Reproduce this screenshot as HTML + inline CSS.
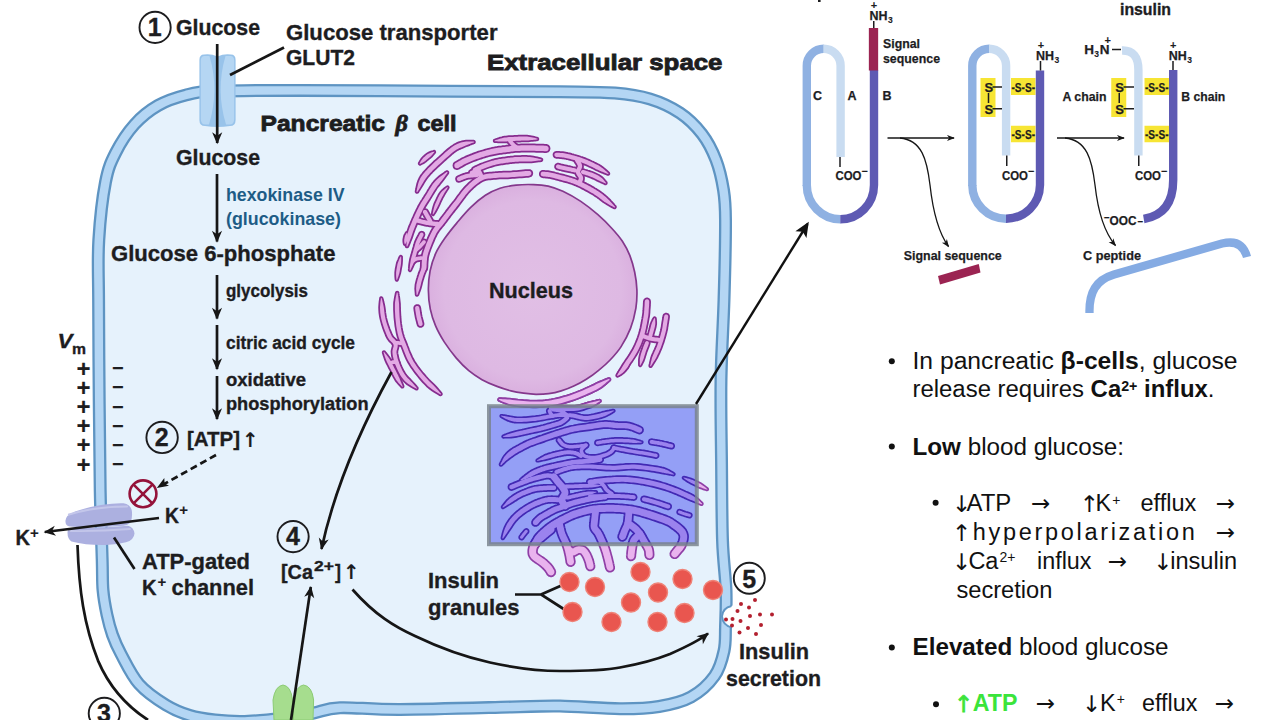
<!DOCTYPE html>
<html lang="en">
<head>
<meta charset="utf-8">
<title>Insulin secretion in pancreatic beta cells</title>
<style>
html,body{margin:0;padding:0;background:#fff;}
body{width:1280px;height:720px;overflow:hidden;}
svg{display:block;}
text{font-family:"Liberation Sans",sans-serif;}
.b{font-weight:bold;fill:#1d1d1f;stroke:#1d1d1f;stroke-width:0.350px;}
.lbl{font-weight:bold;fill:#1d1d1f;font-size:13.5px;stroke:#1d1d1f;stroke-width:0.25px;}
.t{fill:#111;font-size:23.5px;}
.ar text{font-family:"DejaVu Sans",sans-serif;font-size:23px;fill:#111;}
.ln{stroke:#161616;stroke-width:2.700;fill:none;stroke-linecap:butt;}
</style>
</head>
<body>
<svg width="1280" height="720" viewBox="0 0 1280 720">
<defs>
<marker id="ah" viewBox="0 0 12 10" refX="10" refY="5" markerWidth="13.500" markerHeight="11.500" markerUnits="userSpaceOnUse" orient="auto"><path d="M0.5,0.5 L11,5 L0.5,9.5 L3.5,5 Z" fill="#161616"/></marker>
<marker id="ahs" viewBox="0 0 10 8" refX="8.5" refY="4" markerWidth="9" markerHeight="7" markerUnits="userSpaceOnUse" orient="auto"><path d="M0.5,0.5 L9.5,4 L0.5,7.5 L3,4 Z" fill="#161616"/></marker>
<marker id="ahb" viewBox="0 0 16 14" refX="13" refY="7" markerWidth="16" markerHeight="14" markerUnits="userSpaceOnUse" orient="auto"><path d="M0.5,0.5 L15.5,7 L0.5,13.5 L4,7 Z" fill="#111"/></marker>
<radialGradient id="nuc" cx="0.5" cy="0.5" r="0.5"><stop offset="0" stop-color="#e1bfe5"/><stop offset="0.85" stop-color="#deb9e3"/><stop offset="1" stop-color="#dab0df"/></radialGradient>
<filter id="soft" x="-5%" y="-5%" width="110%" height="110%"><feGaussianBlur stdDeviation="0.45"/></filter>
</defs>
<rect width="1280" height="720" fill="#ffffff"/>

<!-- ================= CELL ================= -->
<g id="cell">
<path d="M98.6,300.0 C98.5,273.3 97.6,259.7 98.8,240.0 C100.0,220.3 102.7,196.5 105.5,182.0 C108.3,167.5 110.7,162.6 115.5,153.0 C120.3,143.4 127.4,132.4 134.5,124.5 C141.6,116.6 149.4,110.4 158.0,105.5 C166.6,100.6 176.5,97.4 186.0,95.0 C195.5,92.6 196.0,92.1 215.0,91.3 C234.0,90.5 260.8,90.4 300.0,90.4 C339.2,90.4 406.7,91.0 450.0,91.2 C493.3,91.4 532.5,91.5 560.0,91.8 C587.5,92.1 600.0,91.8 615.0,93.0 C630.0,94.2 639.2,95.7 650.0,99.0 C660.8,102.3 671.3,107.2 680.0,113.0 C688.7,118.8 696.0,126.2 702.0,134.0 C708.0,141.8 712.4,150.7 716.0,160.0 C719.6,169.3 721.9,180.0 723.5,190.0 C725.1,200.0 725.4,201.7 725.5,220.0 C725.6,238.3 724.8,273.3 724.0,300.0 C723.2,326.7 721.4,353.3 721.0,380.0 C720.6,406.7 721.2,433.3 721.5,460.0 C721.8,486.7 721.8,518.3 722.5,540.0 C723.2,561.7 725.5,575.5 726.0,590.0 C726.5,604.5 725.8,616.8 725.5,627.0 C725.2,637.2 725.8,642.8 724.0,651.0 C722.2,659.2 720.0,668.3 714.5,676.0 C709.0,683.7 700.2,691.9 691.0,697.0 C681.8,702.1 670.8,704.5 659.0,706.5 C647.2,708.5 636.5,708.9 620.0,708.8 C603.5,708.7 576.7,706.3 560.0,706.0 C543.3,705.7 546.7,706.2 520.0,706.8 C493.3,707.4 430.0,709.4 400.0,709.5 C370.0,709.6 354.4,707.1 340.0,707.7 C325.6,708.3 321.9,711.5 313.6,713.0 C305.3,714.5 297.1,715.9 290.0,717.0 C282.9,718.1 279.0,718.8 271.0,719.5 C263.0,720.2 251.3,721.4 242.0,721.5 C232.7,721.6 223.7,721.0 215.0,720.0 C206.3,719.0 198.2,718.0 190.0,715.5 C181.8,713.0 174.5,710.2 166.0,705.0 C157.5,699.8 146.5,692.5 139.0,684.0 C131.5,675.5 125.4,662.2 121.0,654.0 C116.6,645.8 114.8,641.5 112.5,635.0 C110.2,628.5 108.6,622.5 107.0,615.0 C105.4,607.5 103.8,599.2 103.0,590.0 C102.2,580.8 102.7,576.7 102.2,560.0 C101.7,543.3 100.7,516.7 100.2,490.0 C99.7,463.3 99.5,431.7 99.2,400.0 C98.9,368.3 98.7,326.7 98.6,300.0 Z" fill="#e6f2fc"/>
<path d="M98.6,300.0 C98.5,273.3 97.6,259.7 98.8,240.0 C100.0,220.3 102.7,196.5 105.5,182.0 C108.3,167.5 110.7,162.6 115.5,153.0 C120.3,143.4 127.4,132.4 134.5,124.5 C141.6,116.6 149.4,110.4 158.0,105.5 C166.6,100.6 176.5,97.4 186.0,95.0 C195.5,92.6 196.0,92.1 215.0,91.3 C234.0,90.5 260.8,90.4 300.0,90.4 C339.2,90.4 406.7,91.0 450.0,91.2 C493.3,91.4 532.5,91.5 560.0,91.8 C587.5,92.1 600.0,91.8 615.0,93.0 C630.0,94.2 639.2,95.7 650.0,99.0 C660.8,102.3 671.3,107.2 680.0,113.0 C688.7,118.8 696.0,126.2 702.0,134.0 C708.0,141.8 712.4,150.7 716.0,160.0 C719.6,169.3 721.9,180.0 723.5,190.0 C725.1,200.0 725.4,201.7 725.5,220.0 C725.6,238.3 724.8,273.3 724.0,300.0 C723.2,326.7 721.4,353.3 721.0,380.0 C720.6,406.7 721.2,433.3 721.5,460.0 C721.8,486.7 721.8,518.3 722.5,540.0 C723.2,561.7 725.5,575.5 726.0,590.0 C726.5,604.5 725.8,616.8 725.5,627.0 C725.2,637.2 725.8,642.8 724.0,651.0 C722.2,659.2 720.0,668.3 714.5,676.0 C709.0,683.7 700.2,691.9 691.0,697.0 C681.8,702.1 670.8,704.5 659.0,706.5 C647.2,708.5 636.5,708.9 620.0,708.8 C603.5,708.7 576.7,706.3 560.0,706.0 C543.3,705.7 546.7,706.2 520.0,706.8 C493.3,707.4 430.0,709.4 400.0,709.5 C370.0,709.6 354.4,707.1 340.0,707.7 C325.6,708.3 321.9,711.5 313.6,713.0 C305.3,714.5 297.1,715.9 290.0,717.0 C282.9,718.1 279.0,718.8 271.0,719.5 C263.0,720.2 251.3,721.4 242.0,721.5 C232.7,721.6 223.7,721.0 215.0,720.0 C206.3,719.0 198.2,718.0 190.0,715.5 C181.8,713.0 174.5,710.2 166.0,705.0 C157.5,699.8 146.5,692.5 139.0,684.0 C131.5,675.5 125.4,662.2 121.0,654.0 C116.6,645.8 114.8,641.5 112.5,635.0 C110.2,628.5 108.6,622.5 107.0,615.0 C105.4,607.5 103.8,599.2 103.0,590.0 C102.2,580.8 102.7,576.7 102.2,560.0 C101.7,543.3 100.7,516.7 100.2,490.0 C99.7,463.3 99.5,431.7 99.2,400.0 C98.9,368.3 98.7,326.7 98.6,300.0 Z" fill="none" stroke="#5e94c2" stroke-width="13" stroke-linejoin="round"/>
<path d="M98.6,300.0 C98.5,273.3 97.6,259.7 98.8,240.0 C100.0,220.3 102.7,196.5 105.5,182.0 C108.3,167.5 110.7,162.6 115.5,153.0 C120.3,143.4 127.4,132.4 134.5,124.5 C141.6,116.6 149.4,110.4 158.0,105.5 C166.6,100.6 176.5,97.4 186.0,95.0 C195.5,92.6 196.0,92.1 215.0,91.3 C234.0,90.5 260.8,90.4 300.0,90.4 C339.2,90.4 406.7,91.0 450.0,91.2 C493.3,91.4 532.5,91.5 560.0,91.8 C587.5,92.1 600.0,91.8 615.0,93.0 C630.0,94.2 639.2,95.7 650.0,99.0 C660.8,102.3 671.3,107.2 680.0,113.0 C688.7,118.8 696.0,126.2 702.0,134.0 C708.0,141.8 712.4,150.7 716.0,160.0 C719.6,169.3 721.9,180.0 723.5,190.0 C725.1,200.0 725.4,201.7 725.5,220.0 C725.6,238.3 724.8,273.3 724.0,300.0 C723.2,326.7 721.4,353.3 721.0,380.0 C720.6,406.7 721.2,433.3 721.5,460.0 C721.8,486.7 721.8,518.3 722.5,540.0 C723.2,561.7 725.5,575.5 726.0,590.0 C726.5,604.5 725.8,616.8 725.5,627.0 C725.2,637.2 725.8,642.8 724.0,651.0 C722.2,659.2 720.0,668.3 714.5,676.0 C709.0,683.7 700.2,691.9 691.0,697.0 C681.8,702.1 670.8,704.5 659.0,706.5 C647.2,708.5 636.5,708.9 620.0,708.8 C603.5,708.7 576.7,706.3 560.0,706.0 C543.3,705.7 546.7,706.2 520.0,706.8 C493.3,707.4 430.0,709.4 400.0,709.5 C370.0,709.6 354.4,707.1 340.0,707.7 C325.6,708.3 321.9,711.5 313.6,713.0 C305.3,714.5 297.1,715.9 290.0,717.0 C282.9,718.1 279.0,718.8 271.0,719.5 C263.0,720.2 251.3,721.4 242.0,721.5 C232.7,721.6 223.7,721.0 215.0,720.0 C206.3,719.0 198.2,718.0 190.0,715.5 C181.8,713.0 174.5,710.2 166.0,705.0 C157.5,699.8 146.5,692.5 139.0,684.0 C131.5,675.5 125.4,662.2 121.0,654.0 C116.6,645.8 114.8,641.5 112.5,635.0 C110.2,628.5 108.6,622.5 107.0,615.0 C105.4,607.5 103.8,599.2 103.0,590.0 C102.2,580.8 102.7,576.7 102.2,560.0 C101.7,543.3 100.7,516.7 100.2,490.0 C99.7,463.3 99.5,431.7 99.2,400.0 C98.9,368.3 98.7,326.7 98.6,300.0 Z" fill="none" stroke="#b4d6f4" stroke-width="8.400" stroke-linejoin="round"/>
</g>

<!--ER_START-->
<!-- ================= NUCLEUS + ER ================= -->
<path d="M516.2,185.1 C521.8,184.5 528.1,184.4 533.5,184.6 C538.8,184.7 543.3,185.0 548.2,186.1 C553.1,187.3 557.5,188.8 562.9,191.3 C568.4,193.9 575.0,197.6 580.8,201.4 C586.6,205.3 592.7,210.2 597.9,214.7 C603.0,219.2 607.7,223.8 611.7,228.2 C615.8,232.6 619.4,236.7 622.4,241.3 C625.4,245.9 627.8,250.5 629.9,255.6 C631.9,260.8 633.5,266.5 634.7,272.2 C635.9,277.9 636.7,283.7 636.9,289.7 C637.1,295.7 636.9,301.7 635.9,308.1 C634.8,314.6 633.0,321.9 630.5,328.4 C628.0,334.8 624.5,341.3 621.1,346.6 C617.7,351.9 613.9,356.0 610.1,360.0 C606.4,364.0 602.6,367.2 598.6,370.4 C594.7,373.7 590.5,376.7 586.3,379.3 C582.2,381.9 578.0,384.2 573.8,386.1 C569.6,388.1 565.4,389.7 561.2,390.9 C557.1,392.2 552.9,393.1 548.7,393.6 C544.5,394.2 540.3,394.3 536.1,394.3 C532.0,394.2 527.8,393.7 523.6,393.1 C519.4,392.5 515.5,391.9 511.0,390.8 C506.6,389.7 501.8,388.3 497.0,386.4 C492.1,384.6 486.7,382.3 482.0,379.7 C477.3,377.0 473.1,374.3 468.8,370.7 C464.5,367.1 460.2,362.7 456.1,357.9 C452.1,353.1 447.7,347.2 444.2,341.9 C440.8,336.5 437.8,331.2 435.5,325.7 C433.2,320.2 431.5,314.9 430.3,309.1 C429.1,303.2 428.4,296.8 428.4,290.4 C428.3,284.1 428.9,277.1 430.1,270.9 C431.4,264.7 433.3,258.6 435.8,253.2 C438.2,247.8 441.3,243.3 444.8,238.3 C448.3,233.3 452.4,228.2 456.7,223.1 C461.1,217.9 465.9,212.0 470.7,207.4 C475.4,202.8 480.5,198.5 485.4,195.3 C490.2,192.2 494.9,190.0 500.0,188.3 C505.1,186.6 510.6,185.8 516.2,185.1 Z" fill="url(#nuc)" stroke="#84388c" stroke-width="1.700"/>
<defs><g id="erP">
<path d="M420.3,163.8 L421.0,163.4 L421.9,163.0 L423.0,162.4 L424.1,161.7 L425.3,160.9 L426.3,160.0 L427.3,159.2 L428.2,158.4 L429.1,157.7 L430.0,157.0 L430.9,156.2 L431.8,155.3 L432.5,154.4 L433.2,153.6 L433.8,152.9 L434.2,152.3 L434.4,152.2 L434.4,152.0 L434.3,151.8 L434.2,151.6 L434.0,151.6 L433.8,151.7 L433.1,151.9 L432.3,152.1 L431.2,152.5 L430.1,152.9 L429.0,153.4 L427.8,154.1 L426.8,154.8 L425.8,155.6 L424.9,156.4 L423.8,157.3 L422.9,158.3 L422.0,159.4 L421.2,160.6 L420.6,161.6 L420.1,162.5 L419.7,163.2 L419.6,163.4 L419.6,163.6 L419.7,163.8 L419.9,163.9 L420.1,163.9Z"/>
<path d="M417.5,191.7 L418.0,190.9 L418.8,189.7 L419.6,188.4 L420.5,186.9 L421.5,185.3 L422.4,183.8 L423.2,182.4 L424.0,181.1 L424.7,180.0 L425.4,179.0 L426.0,178.1 L426.7,177.2 L427.4,176.2 L428.3,175.3 L429.2,174.2 L430.2,173.1 L431.4,171.9 L432.6,170.6 L434.0,169.3 L435.4,167.9 L436.9,166.5 L438.4,165.1 L440.0,163.7 L441.6,162.2 L443.2,160.7 L445.0,159.1 L446.8,157.5 L448.6,155.9 L450.5,154.3 L452.2,152.8 L453.8,151.5 L455.3,150.4 L456.7,149.6 L457.9,148.9 L459.1,148.3 L460.2,147.8 L461.3,147.4 L462.3,146.9 L463.5,146.5 L464.6,146.0 L465.8,145.5 L467.0,145.0 L468.3,144.5 L469.6,144.0 L470.8,143.5 L471.9,143.1 L472.9,142.8 L473.6,142.5 L473.8,142.4 L474.0,142.2 L474.0,141.9 L473.9,141.7 L473.7,141.5 L473.4,141.5 L472.7,141.5 L471.7,141.5 L470.5,141.4 L469.1,141.4 L467.7,141.5 L466.2,141.6 L464.8,141.8 L463.4,142.0 L462.1,142.3 L460.9,142.6 L459.7,143.0 L458.4,143.5 L457.1,144.0 L455.7,144.7 L454.2,145.6 L452.7,146.6 L451.0,147.8 L449.2,149.2 L447.4,150.7 L445.5,152.3 L443.7,154.0 L441.8,155.7 L440.1,157.3 L438.4,158.8 L436.8,160.2 L435.2,161.6 L433.7,163.1 L432.2,164.5 L430.7,165.9 L429.3,167.3 L428.0,168.6 L426.8,169.9 L425.7,171.1 L424.7,172.2 L423.8,173.2 L423.0,174.3 L422.2,175.3 L421.4,176.4 L420.7,177.6 L420.0,178.9 L419.3,180.4 L418.7,182.1 L418.1,183.9 L417.7,185.7 L417.3,187.4 L417.0,189.0 L416.7,190.3 L416.5,191.3 L416.5,191.6 L416.6,191.8 L416.8,192.0 L417.1,192.0 L417.3,191.9Z"/>
<path d="M407.5,246.1 L408.0,245.1 L408.6,243.7 L409.3,242.0 L410.0,240.2 L410.8,238.3 L411.5,236.3 L412.1,234.5 L412.7,232.7 L413.3,231.1 L413.9,229.4 L414.6,227.7 L415.3,226.0 L416.0,224.3 L416.7,222.7 L417.4,221.0 L418.1,219.4 L418.8,217.9 L419.5,216.4 L420.2,215.0 L420.8,213.6 L421.5,212.2 L422.2,210.8 L422.8,209.5 L423.6,208.1 L424.3,206.8 L425.0,205.6 L425.8,204.3 L426.6,203.1 L427.4,201.8 L428.2,200.5 L429.1,199.2 L430.0,197.7 L430.9,196.2 L431.8,194.7 L432.8,193.1 L433.7,191.5 L434.7,190.0 L435.7,188.4 L436.7,186.9 L437.8,185.5 L439.1,184.0 L440.4,182.3 L441.9,180.5 L443.2,178.7 L444.5,176.9 L445.7,175.3 L446.7,173.9 L447.4,172.9 L447.5,172.6 L447.5,172.4 L447.4,172.1 L447.1,172.0 L446.9,172.0 L446.6,172.1 L445.6,172.8 L444.2,173.8 L442.6,174.9 L440.8,176.2 L438.9,177.7 L437.2,179.3 L435.5,180.9 L434.2,182.5 L432.9,184.1 L431.8,185.8 L430.7,187.4 L429.7,189.1 L428.7,190.7 L427.8,192.3 L426.9,193.8 L426.0,195.3 L425.1,196.6 L424.3,198.0 L423.4,199.3 L422.6,200.6 L421.8,201.8 L421.0,203.1 L420.2,204.5 L419.4,205.9 L418.7,207.3 L418.0,208.7 L417.3,210.1 L416.6,211.6 L415.9,213.0 L415.2,214.5 L414.5,216.0 L413.9,217.6 L413.1,219.1 L412.4,220.8 L411.7,222.5 L411.0,224.2 L410.2,225.9 L409.5,227.7 L408.9,229.5 L408.3,231.3 L407.7,233.2 L407.3,235.2 L407.0,237.4 L406.8,239.5 L406.7,241.5 L406.6,243.3 L406.5,244.8 L406.5,245.9 L406.5,246.1 L406.6,246.4 L406.9,246.5 L407.1,246.5 L407.4,246.4Z"/>
<path d="M433.3,214.1 L433.8,213.4 L434.4,212.5 L435.1,211.3 L435.8,210.1 L436.5,208.7 L437.3,207.3 L437.9,206.0 L438.5,204.7 L439.1,203.4 L439.7,202.1 L440.3,200.8 L440.9,199.5 L441.5,198.2 L442.1,197.0 L442.8,195.9 L443.3,194.9 L443.9,193.9 L444.5,192.8 L445.2,191.8 L445.8,190.8 L446.4,189.9 L447.0,189.0 L447.4,188.3 L447.8,187.7 L447.9,187.6 L447.8,187.4 L447.7,187.2 L447.6,187.1 L447.4,187.2 L447.2,187.3 L446.7,187.6 L446.0,188.1 L445.2,188.7 L444.3,189.4 L443.4,190.2 L442.4,191.1 L441.5,192.1 L440.7,193.1 L439.9,194.3 L439.2,195.5 L438.6,196.7 L437.9,198.1 L437.3,199.4 L436.7,200.7 L436.1,202.0 L435.5,203.3 L434.9,204.7 L434.4,206.2 L434.0,207.7 L433.6,209.2 L433.3,210.6 L433.0,211.9 L432.8,213.0 L432.7,213.9 L432.6,214.1 L432.7,214.2 L432.9,214.3 L433.1,214.4 L433.2,214.3Z"/>
<path d="M426.4,268.1 L426.5,267.2 L426.6,265.9 L426.6,264.5 L426.7,262.9 L426.8,261.2 L427.0,259.5 L427.1,257.9 L427.4,256.5 L427.7,255.1 L428.1,253.7 L428.5,252.3 L429.0,250.9 L429.5,249.4 L430.1,247.9 L430.7,246.4 L431.3,244.9 L431.9,243.3 L432.6,241.7 L433.3,240.0 L434.0,238.3 L434.8,236.7 L435.6,235.1 L436.3,233.6 L437.1,232.3 L437.9,231.0 L438.7,229.9 L439.5,228.8 L440.4,227.8 L441.3,226.7 L442.2,225.7 L443.1,224.6 L443.9,223.5 L444.7,222.5 L445.5,221.5 L446.2,220.5 L446.8,219.6 L447.5,218.7 L448.3,217.7 L449.1,216.6 L449.9,215.5 L450.9,214.2 L451.9,212.9 L453.0,211.6 L454.1,210.1 L455.3,208.7 L456.5,207.1 L457.7,205.6 L458.9,204.0 L460.2,202.3 L461.5,200.5 L462.8,198.7 L464.2,196.9 L465.5,195.1 L466.9,193.4 L468.3,191.7 L469.7,190.2 L471.3,188.7 L472.8,187.2 L474.5,185.8 L476.1,184.4 L477.7,183.2 L479.4,182.0 L481.0,181.0 L482.5,180.2 L484.0,179.6 L485.5,179.1 L487.0,178.8 L488.6,178.6 L490.3,178.4 L492.0,178.3 L493.8,178.1 L495.7,177.9 L497.6,177.8 L499.6,177.6 L501.6,177.5 L503.6,177.5 L505.7,177.4 L507.9,177.4 L510.0,177.3 L512.2,177.1 L514.4,177.0 L516.8,176.8 L519.3,176.6 L521.7,176.4 L524.1,176.2 L526.1,176.0 L527.9,175.9 L529.2,175.7 L530.4,175.3 L531.2,174.3 L531.4,173.1 L531.0,171.9 L530.0,171.1 L528.8,170.9 L527.5,171.0 L525.7,171.1 L523.6,171.3 L521.3,171.5 L518.9,171.7 L516.4,171.9 L514.0,172.1 L511.8,172.3 L509.8,172.4 L507.7,172.5 L505.6,172.5 L503.5,172.6 L501.4,172.7 L499.3,172.7 L497.2,172.9 L495.3,173.1 L493.4,173.2 L491.6,173.4 L489.8,173.5 L488.0,173.7 L486.2,174.0 L484.3,174.4 L482.4,175.0 L480.5,175.8 L478.6,176.8 L476.7,177.9 L474.8,179.2 L473.0,180.6 L471.3,182.1 L469.5,183.6 L467.9,185.2 L466.3,186.8 L464.7,188.5 L463.1,190.3 L461.7,192.1 L460.3,194.0 L458.9,195.8 L457.6,197.6 L456.3,199.4 L455.1,201.0 L453.8,202.6 L452.6,204.1 L451.4,205.6 L450.3,207.1 L449.1,208.5 L448.1,209.9 L447.0,211.2 L446.1,212.5 L445.2,213.7 L444.4,214.8 L443.6,215.8 L442.9,216.7 L442.2,217.6 L441.5,218.5 L440.8,219.5 L440.1,220.5 L439.3,221.5 L438.4,222.5 L437.5,223.5 L436.6,224.6 L435.7,225.8 L434.7,227.0 L433.8,228.3 L432.9,229.7 L432.0,231.3 L431.2,232.9 L430.4,234.6 L429.6,236.3 L428.8,238.0 L428.1,239.8 L427.4,241.5 L426.7,243.1 L426.1,244.6 L425.5,246.2 L424.9,247.7 L424.4,249.3 L423.9,250.8 L423.4,252.3 L423.0,253.9 L422.6,255.5 L422.3,257.2 L422.1,259.0 L421.9,260.8 L421.8,262.6 L421.7,264.3 L421.7,265.7 L421.6,267.0 L421.6,267.9 L421.8,269.1 L422.6,270.0 L423.9,270.4 L425.1,270.2 L426.0,269.4Z"/>
<path d="M415.4,222.1 L415.9,222.2 L416.6,222.4 L417.4,222.7 L418.4,223.0 L419.4,223.3 L420.4,223.6 L421.5,223.8 L422.5,224.1 L423.5,224.3 L424.5,224.5 L425.5,224.8 L426.6,225.0 L427.7,225.1 L428.7,225.3 L429.7,225.5 L430.7,225.6 L431.7,225.8 L432.8,225.8 L433.9,225.9 L434.9,226.0 L435.8,226.0 L436.7,226.1 L437.4,226.1 L437.9,226.1 L439.0,225.9 L439.8,225.2 L440.1,224.1 L439.9,223.0 L439.2,222.2 L438.1,221.9 L437.6,221.8 L436.9,221.8 L436.0,221.7 L435.1,221.7 L434.2,221.6 L433.2,221.6 L432.2,221.5 L431.3,221.4 L430.4,221.2 L429.4,221.1 L428.4,220.9 L427.4,220.7 L426.4,220.5 L425.4,220.3 L424.4,220.1 L423.5,219.9 L422.6,219.7 L421.6,219.4 L420.6,219.1 L419.6,218.8 L418.7,218.6 L417.9,218.3 L417.2,218.1 L416.6,217.9 L415.5,217.9 L414.5,218.4 L413.9,219.4 L413.9,220.5 L414.4,221.5Z"/>
<path d="M423.1,213.1 L423.5,213.6 L423.9,214.4 L424.4,215.3 L425.0,216.3 L425.6,217.4 L426.2,218.4 L426.7,219.3 L427.1,220.0 L427.5,220.7 L427.8,221.3 L428.1,221.9 L428.3,222.4 L428.5,222.9 L428.7,223.3 L428.9,223.6 L429.1,223.9 L429.8,224.8 L430.9,225.1 L431.9,224.9 L432.8,224.2 L433.1,223.1 L432.9,222.1 L432.8,221.8 L432.6,221.4 L432.4,221.0 L432.2,220.5 L431.9,219.9 L431.6,219.3 L431.3,218.7 L430.9,218.0 L430.4,217.2 L429.9,216.2 L429.3,215.2 L428.7,214.2 L428.2,213.2 L427.6,212.3 L427.2,211.5 L426.9,210.9 L426.1,210.1 L425.0,209.9 L423.9,210.1 L423.1,210.9 L422.9,212.0Z"/>
<path d="M459.8,180.9 L460.4,180.7 L461.2,180.3 L462.2,179.9 L463.2,179.5 L464.3,179.1 L465.4,178.7 L466.4,178.3 L467.5,178.0 L468.6,177.8 L469.8,177.7 L471.2,177.5 L472.7,177.4 L474.0,177.3 L475.3,177.2 L476.4,177.2 L477.2,177.1 L478.2,176.7 L478.9,175.9 L479.1,174.8 L478.7,173.8 L477.9,173.1 L476.8,172.9 L476.1,173.0 L475.0,173.0 L473.8,173.1 L472.3,173.2 L470.8,173.3 L469.3,173.5 L467.9,173.7 L466.5,174.0 L465.3,174.3 L464.0,174.7 L462.7,175.2 L461.6,175.6 L460.5,176.1 L459.6,176.5 L458.8,176.8 L458.2,177.1 L457.3,177.7 L456.9,178.7 L457.1,179.8 L457.7,180.7 L458.7,181.1Z"/>
<path d="M476.0,172.1 L476.7,171.8 L477.6,171.4 L478.6,170.9 L479.8,170.4 L481.0,169.8 L482.3,169.2 L483.6,168.7 L484.8,168.2 L486.1,167.7 L487.5,167.2 L488.9,166.7 L490.4,166.2 L491.8,165.8 L493.3,165.3 L494.7,164.9 L496.1,164.6 L497.4,164.3 L498.7,164.0 L499.9,163.8 L501.2,163.6 L502.4,163.4 L503.7,163.2 L505.0,163.0 L506.3,162.8 L507.6,162.7 L508.9,162.5 L510.2,162.3 L511.4,162.2 L512.7,162.1 L514.0,161.9 L515.3,161.8 L516.6,161.7 L518.0,161.7 L519.4,161.6 L520.7,161.6 L522.1,161.5 L523.6,161.5 L525.0,161.5 L526.5,161.5 L528.0,161.5 L529.6,161.5 L531.4,161.4 L533.2,161.2 L535.1,161.0 L536.9,160.8 L538.6,160.6 L539.9,160.5 L541.0,160.3 L541.2,160.3 L541.4,160.1 L541.5,159.8 L541.5,159.6 L541.3,159.4 L541.0,159.3 L540.0,159.0 L538.7,158.7 L537.1,158.3 L535.3,157.9 L533.4,157.6 L531.5,157.3 L529.7,157.0 L528.0,156.9 L526.5,156.8 L525.0,156.8 L523.5,156.8 L522.1,156.8 L520.6,156.9 L519.2,156.9 L517.8,157.0 L516.4,157.1 L515.0,157.1 L513.6,157.3 L512.3,157.4 L510.9,157.5 L509.6,157.7 L508.3,157.8 L507.0,158.0 L505.7,158.2 L504.4,158.4 L503.1,158.5 L501.8,158.7 L500.4,158.9 L499.1,159.1 L497.7,159.4 L496.3,159.7 L494.9,160.0 L493.5,160.4 L492.0,160.8 L490.5,161.3 L488.9,161.8 L487.4,162.3 L485.9,162.8 L484.5,163.3 L483.2,163.8 L481.8,164.3 L480.4,164.9 L479.1,165.5 L477.8,166.1 L476.6,166.7 L475.6,167.1 L474.7,167.6 L474.0,167.9 L473.1,168.6 L472.7,169.8 L472.9,171.0 L473.6,171.9 L474.8,172.3Z"/>
<path d="M472.9,175.2 L473.5,174.9 L474.2,174.6 L474.9,174.2 L475.7,173.8 L476.5,173.5 L477.1,173.3 L477.4,173.3 L477.3,173.2 L477.0,173.1 L477.1,173.3 L477.4,173.7 L477.7,174.4 L478.1,175.1 L478.4,175.8 L478.6,176.5 L478.9,177.0 L479.7,177.9 L480.8,178.3 L482.0,178.1 L482.9,177.3 L483.3,176.2 L483.1,175.0 L482.9,174.6 L482.7,174.1 L482.4,173.3 L482.0,172.4 L481.5,171.4 L480.9,170.5 L480.1,169.5 L478.7,168.8 L477.3,168.6 L476.0,168.8 L474.9,169.1 L473.9,169.5 L472.9,170.0 L472.1,170.4 L471.5,170.7 L471.1,170.8 L470.1,171.6 L469.7,172.7 L469.8,173.9 L470.6,174.9 L471.7,175.3Z"/>
<path d="M458.4,167.9 L459.0,167.5 L459.8,167.0 L460.7,166.5 L461.8,165.9 L462.9,165.2 L464.0,164.6 L465.1,164.0 L466.2,163.5 L467.3,163.0 L468.4,162.5 L469.5,162.0 L470.7,161.5 L471.8,161.0 L473.0,160.5 L474.2,160.0 L475.5,159.6 L476.7,159.1 L478.0,158.7 L479.3,158.2 L480.6,157.8 L481.9,157.3 L483.2,156.9 L484.5,156.5 L485.8,156.1 L487.0,155.8 L488.3,155.4 L489.6,155.1 L490.9,154.8 L492.2,154.5 L493.5,154.2 L494.7,154.0 L496.0,153.7 L497.3,153.5 L498.6,153.3 L499.8,153.1 L501.1,152.9 L502.4,152.7 L503.7,152.6 L505.0,152.4 L506.4,152.2 L507.7,152.1 L508.9,151.9 L510.2,151.7 L511.4,151.6 L512.7,151.4 L513.9,151.3 L515.3,151.1 L516.7,151.0 L518.2,151.0 L519.7,150.9 L521.3,150.8 L523.0,150.8 L524.7,150.8 L526.4,150.7 L528.2,150.7 L530.0,150.7 L531.9,150.8 L534.1,150.8 L536.4,150.9 L538.7,151.0 L541.0,151.1 L543.0,151.1 L544.6,151.2 L545.9,151.2 L547.3,150.9 L548.3,150.0 L548.7,148.6 L548.4,147.2 L547.5,146.2 L546.1,145.8 L544.9,145.7 L543.2,145.6 L541.2,145.6 L538.9,145.5 L536.6,145.4 L534.3,145.3 L532.0,145.3 L530.0,145.3 L528.2,145.2 L526.4,145.2 L524.6,145.3 L522.8,145.3 L521.2,145.3 L519.5,145.4 L517.9,145.5 L516.3,145.6 L514.8,145.7 L513.4,145.8 L512.0,145.9 L510.7,146.1 L509.4,146.3 L508.2,146.4 L506.9,146.6 L505.6,146.8 L504.3,146.9 L503.0,147.1 L501.7,147.3 L500.4,147.4 L499.0,147.6 L497.7,147.8 L496.3,148.1 L495.0,148.3 L493.6,148.6 L492.3,148.8 L491.0,149.1 L489.6,149.4 L488.3,149.8 L486.9,150.1 L485.6,150.5 L484.2,150.9 L482.9,151.3 L481.5,151.7 L480.2,152.1 L478.8,152.5 L477.5,153.0 L476.1,153.5 L474.8,153.9 L473.5,154.4 L472.3,154.9 L471.0,155.4 L469.8,155.9 L468.5,156.4 L467.3,156.9 L466.1,157.4 L464.9,158.0 L463.8,158.5 L462.6,159.1 L461.4,159.8 L460.2,160.5 L459.0,161.1 L458.0,161.8 L457.0,162.3 L456.2,162.8 L455.6,163.1 L454.6,164.1 L454.3,165.5 L454.6,166.9 L455.6,167.9 L457.0,168.2Z"/>
<path d="M495.1,141.2 L495.8,141.3 L496.9,141.3 L498.1,141.4 L499.5,141.4 L500.9,141.5 L502.4,141.5 L503.8,141.5 L505.2,141.4 L506.5,141.4 L507.8,141.3 L509.2,141.2 L510.6,141.1 L511.9,141.1 L513.3,141.0 L514.7,140.9 L516.1,140.8 L517.5,140.8 L518.9,140.7 L520.2,140.7 L521.6,140.6 L523.0,140.6 L524.4,140.6 L525.7,140.5 L527.0,140.4 L528.3,140.4 L529.7,140.2 L531.2,140.1 L532.6,140.0 L534.0,139.8 L535.2,139.7 L536.2,139.6 L537.0,139.5 L537.2,139.4 L537.4,139.2 L537.5,139.0 L537.4,138.8 L537.2,138.6 L537.0,138.5 L536.3,138.4 L535.3,138.1 L534.1,137.8 L532.8,137.5 L531.3,137.2 L529.9,136.9 L528.4,136.7 L527.0,136.6 L525.7,136.5 L524.3,136.5 L522.9,136.5 L521.5,136.5 L520.1,136.6 L518.7,136.6 L517.3,136.7 L515.9,136.8 L514.5,136.8 L513.1,136.9 L511.7,137.0 L510.3,137.0 L508.9,137.1 L507.5,137.2 L506.2,137.4 L504.8,137.6 L503.4,137.8 L502.0,138.2 L500.5,138.5 L499.1,139.0 L497.8,139.4 L496.7,139.8 L495.7,140.1 L494.9,140.4 L494.7,140.4 L494.6,140.6 L494.6,140.9 L494.6,141.1 L494.8,141.2Z"/>
<path d="M508.5,142.2 L508.7,142.5 L509.0,142.9 L509.4,143.3 L509.8,143.8 L510.2,144.3 L510.7,144.9 L511.2,145.4 L511.6,145.9 L512.1,146.3 L512.6,146.8 L513.2,147.3 L513.7,147.7 L514.2,148.1 L514.6,148.5 L515.0,148.8 L515.3,149.0 L516.2,149.4 L517.2,149.3 L518.0,148.7 L518.4,147.8 L518.3,146.8 L517.7,146.0 L517.5,145.8 L517.1,145.5 L516.7,145.1 L516.2,144.7 L515.7,144.3 L515.2,143.9 L514.8,143.5 L514.4,143.1 L514.0,142.7 L513.6,142.3 L513.2,141.8 L512.8,141.3 L512.4,140.8 L512.0,140.4 L511.7,140.0 L511.5,139.8 L510.7,139.2 L509.7,139.1 L508.8,139.5 L508.2,140.3 L508.1,141.3Z"/>
<path d="M556.3,156.9 L557.0,157.0 L557.9,157.1 L558.9,157.1 L560.0,157.2 L561.2,157.3 L562.4,157.4 L563.5,157.5 L564.6,157.7 L565.7,157.9 L566.9,158.2 L568.0,158.4 L569.2,158.7 L570.4,159.0 L571.6,159.4 L572.9,159.7 L574.1,160.1 L575.3,160.4 L576.6,160.8 L577.8,161.2 L579.1,161.6 L580.4,162.1 L581.7,162.5 L582.9,163.0 L584.2,163.5 L585.5,164.0 L586.8,164.6 L588.2,165.2 L589.6,165.9 L590.9,166.5 L592.2,167.1 L593.5,167.7 L594.6,168.3 L595.7,168.9 L596.7,169.4 L597.7,169.8 L598.7,170.3 L599.6,170.7 L600.5,171.1 L601.4,171.5 L602.2,171.8 L603.1,172.1 L603.9,172.5 L604.7,172.8 L605.5,173.1 L606.2,173.4 L606.8,173.6 L607.3,173.8 L607.7,174.0 L608.0,174.1 L608.2,174.0 L608.4,173.9 L608.5,173.6 L608.4,173.4 L608.3,173.2 L607.9,172.9 L607.5,172.5 L607.0,172.0 L606.5,171.5 L605.8,171.0 L605.2,170.4 L604.5,169.8 L603.8,169.2 L603.0,168.6 L602.3,168.0 L601.5,167.4 L600.6,166.8 L599.7,166.2 L598.7,165.6 L597.7,165.1 L596.6,164.5 L595.4,163.9 L594.1,163.3 L592.8,162.6 L591.4,162.0 L590.0,161.3 L588.6,160.7 L587.2,160.1 L585.8,159.5 L584.5,159.0 L583.1,158.5 L581.8,158.0 L580.5,157.6 L579.2,157.1 L577.9,156.7 L576.6,156.3 L575.3,155.9 L574.0,155.6 L572.8,155.2 L571.5,154.9 L570.3,154.5 L569.0,154.2 L567.8,154.0 L566.6,153.7 L565.4,153.5 L564.1,153.3 L562.8,153.1 L561.5,153.0 L560.3,152.9 L559.2,152.8 L558.1,152.8 L557.3,152.7 L556.7,152.7 L555.6,152.9 L554.7,153.6 L554.4,154.6 L554.6,155.7 L555.3,156.6Z"/>
<path d="M557.5,168.6 L558.1,168.7 L558.9,168.9 L559.9,169.2 L561.0,169.4 L562.1,169.7 L563.3,170.0 L564.4,170.2 L565.5,170.5 L566.7,170.8 L567.9,171.0 L569.3,171.3 L570.6,171.6 L571.8,171.9 L572.9,172.1 L573.9,172.3 L574.6,172.5 L575.6,172.5 L576.5,171.9 L577.0,170.9 L577.0,169.9 L576.4,169.0 L575.4,168.5 L574.7,168.3 L573.8,168.1 L572.7,167.9 L571.4,167.6 L570.1,167.3 L568.8,167.0 L567.6,166.8 L566.5,166.5 L565.4,166.2 L564.2,166.0 L563.0,165.7 L561.9,165.4 L560.8,165.2 L559.9,164.9 L559.1,164.8 L558.5,164.6 L557.4,164.6 L556.5,165.2 L556.0,166.1 L556.0,167.2 L556.6,168.1Z"/>
<path d="M542.7,176.3 L543.4,176.4 L544.2,176.5 L545.1,176.6 L546.1,176.7 L547.2,176.8 L548.4,176.9 L549.5,177.1 L550.6,177.3 L551.6,177.5 L552.8,177.8 L554.0,178.1 L555.2,178.4 L556.5,178.8 L557.7,179.1 L559.0,179.4 L560.2,179.8 L561.4,180.1 L562.6,180.4 L563.8,180.7 L564.9,181.0 L566.0,181.3 L567.2,181.6 L568.2,181.9 L569.3,182.2 L570.3,182.6 L571.3,182.9 L572.2,183.2 L573.1,183.5 L574.1,183.9 L575.0,184.3 L576.0,184.7 L577.0,185.1 L578.2,185.7 L579.4,186.2 L580.6,186.8 L581.8,187.4 L583.1,188.1 L584.4,188.7 L585.6,189.4 L586.9,190.1 L588.1,190.7 L589.4,191.5 L590.6,192.2 L591.9,192.9 L593.1,193.6 L594.3,194.4 L595.5,195.2 L596.7,195.9 L597.8,196.7 L598.9,197.6 L600.1,198.4 L601.2,199.3 L602.3,200.2 L603.4,201.1 L604.6,201.9 L605.7,202.6 L606.9,203.3 L608.1,204.1 L609.3,204.8 L610.5,205.4 L611.6,206.1 L612.7,206.6 L613.5,207.1 L614.2,207.4 L614.4,207.5 L614.7,207.5 L614.9,207.3 L615.0,207.1 L615.0,206.8 L614.8,206.6 L614.3,206.0 L613.7,205.3 L613.0,204.4 L612.1,203.4 L611.2,202.4 L610.2,201.4 L609.2,200.3 L608.3,199.4 L607.3,198.5 L606.3,197.5 L605.2,196.6 L604.1,195.7 L603.0,194.7 L601.8,193.8 L600.6,192.9 L599.3,192.1 L598.1,191.2 L596.8,190.4 L595.5,189.6 L594.3,188.9 L593.0,188.1 L591.7,187.4 L590.4,186.6 L589.1,185.9 L587.8,185.2 L586.5,184.6 L585.2,183.9 L583.9,183.2 L582.6,182.6 L581.4,182.0 L580.1,181.4 L579.0,180.9 L577.8,180.4 L576.8,179.9 L575.8,179.5 L574.8,179.1 L573.8,178.8 L572.8,178.4 L571.8,178.1 L570.7,177.8 L569.6,177.4 L568.4,177.1 L567.3,176.8 L566.1,176.4 L564.9,176.1 L563.8,175.8 L562.6,175.5 L561.4,175.2 L560.2,174.9 L559.0,174.6 L557.7,174.2 L556.4,173.9 L555.2,173.6 L553.9,173.2 L552.7,172.9 L551.4,172.7 L550.2,172.5 L549.0,172.3 L547.8,172.1 L546.6,172.0 L545.6,171.9 L544.6,171.8 L543.8,171.7 L543.3,171.7 L542.1,171.8 L541.1,172.6 L540.7,173.7 L540.8,174.9 L541.6,175.9Z"/>
<path d="M582.4,174.0 L583.1,174.2 L584.0,174.5 L585.2,174.8 L586.4,175.2 L587.7,175.6 L588.9,176.0 L590.1,176.5 L591.2,176.9 L592.2,177.3 L593.3,177.8 L594.3,178.3 L595.3,178.8 L596.3,179.3 L597.2,179.8 L598.2,180.2 L599.0,180.6 L599.9,181.0 L600.8,181.4 L601.7,181.8 L602.6,182.2 L603.4,182.5 L604.1,182.9 L604.7,183.1 L605.2,183.4 L605.4,183.4 L605.7,183.4 L605.9,183.3 L605.9,183.1 L605.9,182.8 L605.8,182.6 L605.4,182.2 L605.0,181.7 L604.5,181.1 L603.9,180.3 L603.3,179.6 L602.6,178.8 L601.8,178.1 L601.0,177.4 L600.1,176.8 L599.2,176.2 L598.2,175.6 L597.1,175.1 L596.1,174.6 L595.0,174.1 L593.9,173.6 L592.8,173.1 L591.6,172.6 L590.3,172.2 L588.9,171.7 L587.6,171.3 L586.4,170.9 L585.2,170.6 L584.3,170.3 L583.6,170.0 L582.6,170.0 L581.6,170.5 L581.0,171.4 L581.0,172.4 L581.5,173.4Z"/>
<path d="M575.1,161.1 L575.4,161.6 L575.8,162.2 L576.3,163.0 L576.8,163.7 L577.2,164.5 L577.6,165.2 L577.8,165.8 L577.9,166.2 L577.8,166.4 L577.7,166.7 L577.5,167.3 L577.1,168.0 L576.7,168.8 L576.3,169.7 L575.9,170.9 L575.9,172.2 L576.1,173.4 L576.6,174.5 L577.2,175.5 L577.7,176.3 L578.2,177.0 L578.6,177.6 L578.8,178.0 L578.9,178.2 L578.8,178.4 L578.7,178.8 L578.6,179.3 L578.3,179.9 L578.0,180.5 L577.6,181.0 L577.3,181.6 L577.1,182.0 L576.9,183.1 L577.2,184.2 L578.0,184.9 L579.1,185.1 L580.2,184.8 L580.9,184.0 L581.1,183.6 L581.3,183.2 L581.7,182.6 L582.1,181.9 L582.5,181.0 L582.9,180.1 L583.1,179.0 L583.1,177.8 L582.9,176.6 L582.4,175.5 L581.8,174.6 L581.3,173.9 L580.8,173.1 L580.4,172.5 L580.2,172.1 L580.1,171.8 L580.2,171.6 L580.3,171.3 L580.5,170.7 L580.9,170.0 L581.3,169.2 L581.7,168.3 L582.1,167.1 L582.1,165.8 L581.9,164.6 L581.5,163.5 L581.0,162.5 L580.5,161.5 L579.9,160.7 L579.5,159.9 L579.1,159.3 L578.9,158.9 L578.1,158.1 L577.0,157.9 L575.9,158.1 L575.1,158.9 L574.9,160.0Z"/>
<path d="M406.7,232.9 L406.4,233.3 L406.1,233.9 L405.7,234.5 L405.3,235.2 L405.0,235.9 L404.8,236.7 L404.6,237.5 L404.5,238.2 L404.3,238.9 L404.2,239.7 L404.2,240.5 L404.2,241.4 L404.3,242.2 L404.4,242.9 L404.6,243.5 L404.7,243.9 L404.7,244.1 L404.8,244.3 L404.9,244.3 L405.1,244.3 L405.3,244.2 L405.3,244.1 L405.6,243.7 L405.9,243.1 L406.3,242.5 L406.7,241.8 L407.0,241.1 L407.2,240.3 L407.4,239.5 L407.5,238.8 L407.7,238.1 L407.8,237.3 L407.8,236.5 L407.8,235.6 L407.7,234.8 L407.6,234.1 L407.4,233.5 L407.3,233.1 L407.3,232.9 L407.2,232.7 L407.1,232.7 L406.9,232.7 L406.7,232.8Z"/>
<path d="M400.4,256.9 L400.0,257.7 L399.5,258.8 L399.0,260.1 L398.4,261.5 L397.8,263.0 L397.4,264.6 L397.1,266.2 L396.8,267.7 L396.5,269.2 L396.3,270.8 L396.1,272.5 L396.1,274.2 L396.1,275.8 L396.2,277.3 L396.3,278.5 L396.4,279.4 L396.4,279.6 L396.6,279.8 L396.7,279.9 L396.9,279.9 L397.1,279.7 L397.2,279.6 L397.5,278.7 L397.9,277.5 L398.4,276.2 L398.9,274.6 L399.4,273.0 L399.7,271.4 L400.0,269.8 L400.2,268.3 L400.5,266.9 L400.8,265.3 L401.0,263.7 L401.1,262.1 L401.2,260.5 L401.2,259.1 L401.2,258.0 L401.2,257.1 L401.2,256.9 L401.1,256.7 L400.9,256.6 L400.7,256.6 L400.5,256.7Z"/>
<path d="M420.0,233.6 L419.7,234.2 L419.3,235.0 L418.8,235.9 L418.2,237.0 L417.7,238.1 L417.1,239.2 L416.6,240.3 L416.2,241.3 L415.8,242.2 L415.5,243.0 L415.3,243.8 L415.1,244.6 L414.8,245.4 L414.6,246.2 L414.4,247.0 L414.1,248.0 L413.8,249.0 L413.5,250.1 L413.2,251.2 L412.9,252.4 L412.5,253.6 L412.2,254.9 L411.8,256.1 L411.4,257.5 L411.0,258.9 L410.7,260.6 L410.4,262.4 L410.1,264.2 L409.9,266.0 L409.8,267.6 L409.7,268.9 L409.6,269.9 L409.6,270.1 L409.7,270.3 L409.9,270.4 L410.1,270.4 L410.3,270.3 L410.4,270.1 L410.9,269.2 L411.4,268.0 L412.1,266.6 L412.8,265.0 L413.6,263.3 L414.2,261.6 L414.7,260.0 L415.2,258.5 L415.5,257.2 L415.9,255.9 L416.3,254.7 L416.6,253.4 L416.9,252.3 L417.3,251.1 L417.6,250.1 L417.9,249.0 L418.1,248.1 L418.4,247.2 L418.6,246.4 L418.8,245.7 L419.0,244.9 L419.2,244.2 L419.5,243.5 L419.8,242.7 L420.2,241.9 L420.7,240.9 L421.2,239.8 L421.7,238.7 L422.2,237.7 L422.7,236.8 L423.1,236.0 L423.4,235.4 L423.6,234.4 L423.3,233.4 L422.6,232.8 L421.6,232.6 L420.6,232.9Z"/>
<path d="M422.6,240.8 L422.3,241.2 L421.8,241.7 L421.2,242.4 L420.6,243.1 L419.9,243.8 L419.3,244.5 L418.7,245.2 L418.2,245.7 L417.7,246.1 L417.2,246.6 L416.8,247.0 L416.3,247.4 L415.9,247.7 L415.4,248.1 L415.1,248.3 L414.8,248.6 L414.3,249.4 L414.2,250.3 L414.6,251.2 L415.4,251.7 L416.3,251.8 L417.2,251.4 L417.4,251.2 L417.8,251.0 L418.2,250.6 L418.6,250.2 L419.2,249.8 L419.7,249.3 L420.3,248.8 L420.8,248.3 L421.4,247.7 L422.0,247.0 L422.7,246.3 L423.4,245.5 L424.0,244.8 L424.6,244.2 L425.0,243.6 L425.4,243.2 L425.8,242.4 L425.8,241.4 L425.2,240.6 L424.4,240.2 L423.4,240.2Z"/>
<path d="M421.2,256.2 L420.8,256.2 L420.2,256.3 L419.5,256.4 L418.7,256.5 L417.8,256.7 L417.0,256.8 L416.1,257.0 L415.4,257.3 L414.7,257.5 L414.1,257.9 L413.5,258.2 L413.0,258.6 L412.6,258.9 L412.3,259.2 L412.1,259.4 L411.9,259.5 L411.3,260.3 L411.2,261.2 L411.5,262.1 L412.3,262.7 L413.2,262.8 L414.1,262.5 L414.4,262.3 L414.7,262.0 L415.0,261.8 L415.3,261.5 L415.6,261.3 L415.9,261.1 L416.3,260.9 L416.6,260.7 L417.1,260.6 L417.7,260.5 L418.4,260.3 L419.2,260.2 L420.0,260.1 L420.7,260.0 L421.3,259.9 L421.8,259.8 L422.7,259.4 L423.2,258.7 L423.3,257.7 L422.9,256.8 L422.2,256.3Z"/>
<path d="M422.0,267.2 L421.8,267.8 L421.4,268.6 L421.1,269.6 L420.7,270.7 L420.2,271.8 L419.8,273.0 L419.3,274.2 L419.0,275.3 L418.6,276.4 L418.3,277.5 L417.9,278.7 L417.6,279.8 L417.3,281.0 L417.0,282.2 L416.7,283.4 L416.4,284.6 L416.3,285.9 L416.2,287.3 L416.1,288.7 L416.2,290.1 L416.3,291.5 L416.4,292.7 L416.5,293.7 L416.5,294.4 L416.6,294.7 L416.7,294.9 L416.9,295.0 L417.2,294.9 L417.4,294.8 L417.5,294.6 L417.8,293.9 L418.1,292.9 L418.5,291.8 L419.0,290.5 L419.5,289.2 L419.9,287.9 L420.3,286.6 L420.6,285.4 L420.9,284.3 L421.1,283.2 L421.4,282.1 L421.7,281.0 L422.0,279.9 L422.4,278.8 L422.7,277.7 L423.0,276.7 L423.4,275.6 L423.8,274.5 L424.2,273.3 L424.7,272.2 L425.1,271.2 L425.4,270.2 L425.8,269.4 L426.0,268.8 L426.1,267.7 L425.7,266.6 L424.8,266.0 L423.7,265.9 L422.6,266.3Z"/>
<path d="M415.1,308.3 L415.2,308.9 L415.3,309.8 L415.4,310.7 L415.6,311.8 L415.8,313.0 L416.0,314.2 L416.2,315.3 L416.4,316.4 L416.6,317.5 L416.9,318.7 L417.2,319.9 L417.5,321.0 L417.8,322.1 L418.0,323.1 L418.3,323.9 L418.4,324.5 L419.0,325.5 L419.9,326.1 L421.0,326.1 L422.0,325.5 L422.6,324.6 L422.6,323.5 L422.4,322.8 L422.2,322.0 L421.9,321.0 L421.7,320.0 L421.4,318.8 L421.1,317.7 L420.8,316.6 L420.6,315.6 L420.4,314.6 L420.2,313.5 L420.0,312.3 L419.9,311.2 L419.7,310.1 L419.5,309.1 L419.4,308.3 L419.3,307.7 L418.9,306.7 L418.0,306.0 L416.9,305.9 L415.9,306.3 L415.2,307.2Z"/>
<path d="M396.7,293.0 L396.5,294.0 L396.2,295.3 L395.9,296.8 L395.6,298.5 L395.3,300.4 L395.0,302.3 L394.9,304.2 L394.9,306.0 L394.9,307.8 L394.9,309.7 L395.0,311.6 L395.1,313.5 L395.2,315.4 L395.3,317.3 L395.5,319.2 L395.7,321.0 L395.9,322.8 L396.1,324.5 L396.3,326.3 L396.6,328.0 L396.9,329.7 L397.2,331.3 L397.5,332.9 L397.9,334.5 L398.3,336.0 L398.7,337.4 L399.2,338.7 L399.6,340.0 L400.2,341.3 L400.7,342.7 L401.3,344.1 L402.0,345.8 L402.7,347.7 L403.5,349.7 L404.3,351.8 L405.2,354.1 L406.2,356.5 L407.3,358.9 L408.5,361.3 L409.9,363.6 L411.3,365.9 L413.0,368.3 L414.7,370.7 L416.5,373.1 L418.4,375.5 L420.3,377.8 L422.2,380.0 L424.0,382.1 L426.0,384.1 L428.1,386.2 L430.4,388.1 L432.7,389.8 L435.0,391.3 L437.1,392.6 L438.8,393.6 L440.2,394.4 L440.4,394.5 L440.7,394.4 L440.9,394.3 L441.0,394.1 L440.9,393.8 L440.8,393.6 L439.8,392.4 L438.5,390.8 L436.9,389.0 L435.1,387.0 L433.2,385.0 L431.1,383.0 L429.0,381.1 L427.2,379.1 L425.4,377.1 L423.6,375.0 L421.7,372.8 L419.9,370.5 L418.1,368.2 L416.5,365.9 L414.9,363.6 L413.5,361.4 L412.3,359.2 L411.2,357.0 L410.2,354.7 L409.2,352.5 L408.3,350.3 L407.5,348.1 L406.7,346.1 L406.0,344.2 L405.3,342.5 L404.7,341.0 L404.1,339.7 L403.7,338.5 L403.2,337.3 L402.8,336.1 L402.5,334.8 L402.1,333.5 L401.7,332.0 L401.4,330.5 L401.1,328.9 L400.8,327.3 L400.6,325.7 L400.3,324.0 L400.1,322.3 L399.9,320.6 L399.8,318.8 L399.6,317.0 L399.5,315.2 L399.4,313.3 L399.3,311.4 L399.2,309.5 L399.2,307.7 L399.1,306.0 L399.1,304.2 L398.9,302.3 L398.7,300.5 L398.5,298.6 L398.3,296.9 L398.0,295.3 L397.8,294.0 L397.7,293.0 L397.6,292.8 L397.4,292.6 L397.2,292.5 L397.0,292.6 L396.8,292.8Z"/>
<path d="M380.9,298.5 L380.7,300.1 L380.4,302.1 L380.2,304.5 L380.0,307.3 L380.1,310.1 L380.3,313.0 L380.7,315.8 L381.2,318.4 L381.8,320.9 L382.5,323.4 L383.3,325.9 L384.1,328.4 L385.0,330.8 L385.9,333.0 L386.7,335.1 L387.6,336.9 L388.5,338.6 L389.5,340.0 L390.5,341.1 L391.5,342.0 L392.3,342.8 L392.9,343.5 L393.3,344.0 L393.5,344.6 L393.6,345.2 L393.6,345.9 L393.5,346.7 L393.2,347.7 L392.9,348.8 L392.6,350.1 L392.4,351.6 L392.5,353.2 L392.7,354.7 L392.9,356.2 L393.3,357.8 L393.7,359.5 L394.1,361.1 L394.7,362.8 L395.3,364.4 L395.9,366.1 L396.6,367.7 L397.3,369.3 L398.1,371.0 L398.9,372.6 L399.8,374.3 L400.8,375.9 L401.9,377.5 L403.1,379.1 L404.5,380.7 L406.2,382.3 L408.0,383.8 L410.0,385.1 L411.9,386.3 L413.6,387.2 L415.1,388.0 L416.2,388.6 L416.4,388.7 L416.7,388.7 L416.8,388.6 L416.9,388.4 L416.9,388.1 L416.8,388.0 L416.0,387.0 L414.9,385.7 L413.6,384.2 L412.1,382.6 L410.5,380.9 L409.0,379.3 L407.5,377.9 L406.3,376.5 L405.2,375.1 L404.3,373.7 L403.4,372.2 L402.5,370.7 L401.8,369.2 L401.0,367.6 L400.3,366.1 L399.7,364.5 L399.1,363.0 L398.6,361.5 L398.1,359.9 L397.6,358.4 L397.3,356.9 L397.0,355.4 L396.7,354.1 L396.5,352.8 L396.5,351.8 L396.6,350.8 L396.9,349.8 L397.2,348.8 L397.5,347.6 L397.7,346.3 L397.7,344.9 L397.5,343.4 L396.9,342.0 L396.1,340.9 L395.2,339.9 L394.3,339.1 L393.5,338.3 L392.7,337.4 L391.9,336.4 L391.2,335.1 L390.5,333.4 L389.7,331.5 L388.8,329.3 L388.0,327.0 L387.2,324.7 L386.4,322.3 L385.8,319.9 L385.2,317.6 L384.8,315.2 L384.4,312.5 L384.1,309.8 L383.7,307.0 L383.2,304.4 L382.6,302.0 L382.2,300.0 L381.7,298.5 L381.7,298.2 L381.5,298.1 L381.3,298.1 L381.0,298.1 L380.9,298.3Z"/>
<path d="M383.6,352.7 L384.0,353.8 L384.4,355.2 L385.0,356.9 L385.6,358.8 L386.4,360.7 L387.2,362.6 L388.2,364.5 L389.1,366.2 L389.9,367.9 L390.9,369.7 L391.8,371.5 L392.7,373.4 L393.6,375.2 L394.5,376.9 L395.4,378.5 L396.2,379.9 L397.1,381.1 L398.0,382.2 L398.8,383.2 L399.6,384.1 L400.3,384.8 L401.0,385.5 L401.5,386.1 L401.9,386.5 L402.1,386.7 L402.3,386.7 L402.5,386.7 L402.7,386.5 L402.7,386.3 L402.7,386.1 L402.4,385.5 L402.1,384.8 L401.8,383.9 L401.4,382.9 L400.9,381.9 L400.4,380.7 L399.9,379.5 L399.4,378.1 L398.7,376.7 L398.0,375.1 L397.1,373.4 L396.2,371.6 L395.3,369.8 L394.3,367.9 L393.4,366.1 L392.5,364.4 L391.6,362.7 L390.6,360.8 L389.5,359.0 L388.3,357.3 L387.1,355.7 L386.0,354.3 L385.1,353.2 L384.4,352.3 L384.2,352.1 L384.0,352.1 L383.8,352.1 L383.6,352.3 L383.6,352.5Z"/>
<path d="M395.0,344.8 L395.3,344.8 L395.8,344.8 L396.2,344.8 L396.8,344.8 L397.3,344.8 L397.9,344.8 L398.4,344.8 L398.9,344.8 L399.4,344.9 L399.9,344.9 L400.4,345.0 L401.0,345.1 L401.5,345.2 L402.0,345.2 L402.4,345.3 L402.8,345.3 L403.7,345.2 L404.5,344.6 L404.8,343.7 L404.7,342.8 L404.1,342.0 L403.2,341.7 L403.0,341.6 L402.5,341.6 L402.1,341.5 L401.5,341.4 L400.9,341.3 L400.3,341.3 L399.7,341.2 L399.1,341.2 L398.5,341.1 L397.9,341.1 L397.3,341.1 L396.7,341.1 L396.2,341.1 L395.7,341.1 L395.3,341.1 L395.0,341.2 L394.1,341.4 L393.4,342.1 L393.2,343.0 L393.4,343.9 L394.1,344.6Z"/>
<path d="M391.1,364.8 L391.4,364.7 L391.8,364.5 L392.2,364.3 L392.7,364.2 L393.1,364.0 L393.5,363.9 L393.8,363.9 L394.0,363.9 L394.1,363.9 L394.4,363.9 L394.7,364.0 L395.0,364.1 L395.4,364.3 L395.7,364.5 L396.0,364.6 L396.3,364.7 L397.3,364.8 L398.1,364.5 L398.7,363.7 L398.8,362.7 L398.5,361.9 L397.7,361.3 L397.5,361.2 L397.2,361.1 L396.9,360.9 L396.4,360.7 L395.9,360.5 L395.3,360.3 L394.7,360.2 L394.0,360.1 L393.3,360.2 L392.6,360.3 L392.0,360.5 L391.5,360.7 L390.9,360.9 L390.5,361.0 L390.2,361.2 L389.9,361.2 L389.1,361.8 L388.7,362.6 L388.7,363.6 L389.3,364.4 L390.1,364.8Z"/>
<path d="M644.8,301.4 L644.7,302.0 L644.7,302.9 L644.6,304.0 L644.6,305.1 L644.5,306.4 L644.4,307.6 L644.3,308.8 L644.3,309.8 L644.2,310.8 L644.1,311.6 L644.1,312.4 L644.0,313.2 L643.9,314.0 L643.8,314.9 L643.6,316.0 L643.4,317.4 L643.1,319.1 L642.7,321.0 L642.4,323.0 L641.9,325.2 L641.5,327.4 L641.0,329.6 L640.4,331.7 L639.8,333.8 L639.2,335.7 L638.6,337.6 L637.9,339.4 L637.2,341.3 L636.4,343.1 L635.6,345.0 L634.7,346.8 L633.8,348.7 L632.8,350.5 L631.6,352.5 L630.4,354.5 L629.1,356.5 L627.8,358.4 L626.5,360.3 L625.3,362.1 L624.2,363.7 L623.2,365.3 L622.2,366.9 L621.3,368.5 L620.4,369.9 L619.6,371.3 L618.9,372.6 L618.3,373.7 L617.8,374.5 L617.7,374.7 L617.7,375.0 L617.9,375.2 L618.1,375.3 L618.4,375.3 L618.6,375.1 L619.3,374.5 L620.2,373.7 L621.4,372.8 L622.6,371.8 L623.9,370.6 L625.2,369.2 L626.6,367.8 L627.8,366.3 L629.0,364.6 L630.2,362.8 L631.6,360.9 L632.9,358.9 L634.2,356.9 L635.5,354.8 L636.7,352.8 L637.8,350.7 L638.8,348.8 L639.7,346.8 L640.6,344.9 L641.4,343.0 L642.1,341.0 L642.8,339.1 L643.5,337.1 L644.2,335.0 L644.8,332.9 L645.3,330.7 L645.9,328.4 L646.3,326.1 L646.8,323.9 L647.2,321.8 L647.5,319.9 L647.8,318.2 L648.1,316.8 L648.3,315.6 L648.4,314.5 L648.5,313.6 L648.6,312.8 L648.6,311.9 L648.7,311.1 L648.7,310.2 L648.8,309.1 L648.9,307.9 L649.0,306.6 L649.1,305.4 L649.1,304.2 L649.2,303.2 L649.2,302.3 L649.2,301.6 L649.0,300.5 L648.2,299.6 L647.1,299.3 L646.0,299.5 L645.1,300.3Z"/>
<path d="M654.2,318.4 L653.9,318.9 L653.5,319.6 L653.1,320.4 L652.7,321.3 L652.2,322.3 L651.8,323.3 L651.4,324.4 L651.1,325.5 L650.8,326.8 L650.4,328.3 L650.0,329.8 L649.5,331.4 L649.1,333.0 L648.7,334.4 L648.4,335.6 L648.1,336.5 L648.1,337.5 L648.6,338.4 L649.5,338.9 L650.5,338.9 L651.4,338.4 L651.9,337.5 L652.1,336.6 L652.5,335.5 L652.8,334.1 L653.3,332.5 L653.7,330.9 L654.2,329.3 L654.6,327.8 L654.9,326.5 L655.1,325.3 L655.3,324.1 L655.3,322.9 L655.3,321.8 L655.2,320.8 L655.2,319.9 L655.1,319.2 L655.0,318.6 L655.0,318.4 L654.9,318.2 L654.7,318.1 L654.5,318.1 L654.3,318.2Z"/>
<path d="M664.2,316.2 L664.1,316.8 L664.0,317.5 L663.8,318.4 L663.7,319.4 L663.5,320.5 L663.3,321.6 L663.1,322.7 L663.0,323.7 L662.8,324.6 L662.7,325.5 L662.6,326.3 L662.5,327.1 L662.3,328.0 L662.1,328.9 L661.9,330.0 L661.6,331.2 L661.2,332.6 L660.8,334.2 L660.3,335.9 L659.8,337.7 L659.2,339.5 L658.7,341.4 L658.1,343.1 L657.5,344.8 L656.9,346.4 L656.2,348.0 L655.5,349.7 L654.7,351.3 L654.0,352.9 L653.3,354.4 L652.7,355.9 L652.2,357.3 L651.8,358.6 L651.5,359.9 L651.2,361.1 L650.9,362.3 L650.7,363.3 L650.5,364.2 L650.3,365.0 L650.2,365.6 L650.2,365.9 L650.2,366.1 L650.4,366.2 L650.7,366.2 L650.9,366.2 L651.0,366.0 L651.4,365.5 L651.8,364.8 L652.3,364.0 L652.9,363.1 L653.5,362.1 L654.2,361.0 L654.9,359.9 L655.6,358.7 L656.3,357.5 L657.0,356.1 L657.7,354.6 L658.5,353.0 L659.2,351.3 L660.0,349.6 L660.7,347.9 L661.3,346.2 L661.9,344.5 L662.6,342.6 L663.2,340.8 L663.7,338.9 L664.3,337.1 L664.8,335.3 L665.2,333.7 L665.6,332.2 L665.9,330.9 L666.2,329.8 L666.4,328.7 L666.5,327.8 L666.6,326.9 L666.8,326.1 L666.9,325.2 L667.0,324.3 L667.2,323.3 L667.4,322.3 L667.5,321.2 L667.7,320.1 L667.9,319.1 L668.0,318.2 L668.1,317.4 L668.2,316.8 L668.1,315.8 L667.5,314.9 L666.5,314.5 L665.5,314.6 L664.6,315.2Z"/>
<path d="M642.3,337.9 L642.8,338.1 L643.4,338.4 L644.2,338.7 L645.1,339.1 L646.1,339.5 L647.2,339.8 L648.4,340.2 L649.5,340.5 L650.8,340.8 L652.2,341.0 L653.7,341.2 L655.2,341.4 L656.6,341.6 L657.9,341.8 L658.9,341.9 L659.7,342.0 L660.8,341.9 L661.6,341.3 L662.0,340.3 L661.9,339.2 L661.3,338.4 L660.3,338.0 L659.5,337.9 L658.4,337.7 L657.1,337.6 L655.7,337.4 L654.3,337.2 L652.9,337.0 L651.6,336.7 L650.5,336.5 L649.5,336.2 L648.5,335.9 L647.6,335.6 L646.6,335.2 L645.8,334.9 L645.0,334.6 L644.3,334.3 L643.7,334.1 L642.7,334.0 L641.7,334.4 L641.1,335.3 L641.0,336.3 L641.4,337.3Z"/>
<path d="M645.2,342.3 L644.9,343.2 L644.4,344.3 L643.9,345.6 L643.3,347.1 L642.8,348.7 L642.2,350.3 L641.6,351.9 L641.1,353.4 L640.7,354.9 L640.3,356.5 L640.0,358.2 L639.8,359.8 L639.8,361.4 L639.8,362.8 L639.8,364.0 L639.8,364.9 L639.8,365.1 L639.9,365.3 L640.1,365.4 L640.3,365.4 L640.5,365.3 L640.6,365.1 L641.0,364.3 L641.6,363.2 L642.2,362.0 L642.9,360.6 L643.5,359.0 L644.0,357.5 L644.4,356.0 L644.9,354.6 L645.3,353.2 L645.8,351.6 L646.4,350.1 L647.0,348.5 L647.6,347.0 L648.1,345.7 L648.5,344.5 L648.8,343.7 L648.9,342.7 L648.5,341.8 L647.7,341.2 L646.7,341.1 L645.8,341.5Z"/>
<path d="M499.4,400.1 L500.7,400.7 L502.3,401.4 L504.3,402.2 L506.6,403.1 L509.0,403.9 L511.7,404.6 L514.5,405.1 L517.2,405.4 L520.1,405.7 L523.1,406.0 L526.2,406.2 L529.5,406.4 L532.8,406.5 L536.1,406.5 L539.4,406.4 L542.7,406.2 L545.9,405.9 L549.1,405.5 L552.3,405.0 L555.5,404.4 L558.7,403.7 L561.9,402.9 L565.0,402.1 L568.2,401.1 L571.5,400.1 L574.8,398.9 L578.1,397.7 L581.5,396.3 L584.7,395.0 L587.8,393.6 L590.8,392.3 L593.5,391.0 L596.2,389.7 L598.8,388.3 L601.1,386.8 L603.3,385.1 L605.2,383.6 L606.8,382.1 L608.2,380.9 L609.3,380.0 L609.5,379.8 L609.5,379.5 L609.5,379.2 L609.3,379.0 L609.0,379.0 L608.7,379.0 L607.4,379.5 L605.6,380.2 L603.6,381.0 L601.4,381.9 L598.9,382.9 L596.5,384.1 L594.0,385.4 L591.5,386.6 L588.8,387.8 L585.9,389.1 L582.8,390.5 L579.6,391.8 L576.4,393.1 L573.1,394.3 L569.9,395.5 L566.8,396.5 L563.7,397.3 L560.6,398.2 L557.6,398.9 L554.5,399.6 L551.5,400.2 L548.4,400.7 L545.3,401.1 L542.3,401.4 L539.2,401.5 L536.1,401.6 L532.9,401.6 L529.7,401.5 L526.5,401.3 L523.5,401.1 L520.5,400.8 L517.8,400.6 L515.1,400.2 L512.5,399.9 L509.9,399.6 L507.3,399.4 L505.0,399.3 L502.8,399.2 L501.0,399.1 L499.6,399.1 L499.3,399.1 L499.1,399.2 L499.0,399.5 L499.0,399.8 L499.1,400.0Z"/>
<path d="M617.8,375.8 L618.4,375.4 L619.3,375.0 L620.3,374.4 L621.4,373.7 L622.5,372.9 L623.5,372.1 L624.5,371.1 L625.3,370.1 L626.1,369.1 L627.0,368.1 L627.7,366.9 L628.3,365.7 L628.8,364.5 L629.2,363.4 L629.6,362.4 L629.8,361.7 L629.9,361.5 L629.9,361.3 L629.7,361.2 L629.5,361.1 L629.3,361.1 L629.2,361.3 L628.6,361.7 L627.8,362.4 L626.9,363.1 L626.0,364.0 L625.1,365.0 L624.2,366.0 L623.4,367.0 L622.7,367.9 L621.9,368.7 L621.1,369.6 L620.2,370.6 L619.4,371.7 L618.7,372.8 L618.1,373.7 L617.6,374.6 L617.2,375.2 L617.1,375.4 L617.1,375.6 L617.2,375.8 L617.4,375.9 L617.6,375.9Z"/>
<path d="M550.9,410.1 L552.7,410.2 L555.2,410.4 L558.1,410.6 L561.4,410.8 L564.8,410.9 L568.1,411.0 L571.2,411.0 L573.9,410.9 L576.3,410.7 L578.4,410.4 L580.3,410.0 L582.2,409.6 L583.9,409.1 L585.5,408.6 L587.1,408.0 L588.6,407.5 L590.3,406.9 L592.0,406.1 L593.6,405.3 L595.2,404.4 L596.6,403.5 L597.8,402.7 L598.9,402.0 L599.7,401.4 L599.9,401.3 L600.0,401.1 L599.9,400.8 L599.8,400.6 L599.6,400.5 L599.3,400.6 L598.4,400.8 L597.2,401.0 L595.7,401.4 L594.1,401.7 L592.4,402.1 L590.7,402.6 L589.0,403.0 L587.4,403.5 L585.8,403.9 L584.2,404.5 L582.6,404.9 L581.0,405.4 L579.4,405.8 L577.6,406.2 L575.7,406.5 L573.7,406.7 L571.2,406.7 L568.2,406.7 L565.0,406.6 L561.6,406.5 L558.4,406.3 L555.4,406.1 L552.9,405.9 L551.1,405.9 L550.0,406.1 L549.2,406.8 L548.9,407.9 L549.1,409.0 L549.8,409.8Z"/>
</g></defs>
<use href="#erP" fill="#862c8e" stroke="#862c8e" stroke-width="3.500" stroke-linejoin="round"/>
<use href="#erP" fill="#e3a9e4"/>
<!--ER_END-->

<!--GOLGI_START-->
<defs><g id="gP">
<path d="M499.4,400.1 L500.7,400.7 L502.3,401.4 L504.3,402.2 L506.6,403.1 L509.0,403.9 L511.7,404.6 L514.5,405.1 L517.2,405.4 L520.1,405.7 L523.1,406.0 L526.2,406.2 L529.5,406.4 L532.8,406.5 L536.1,406.5 L539.4,406.4 L542.7,406.2 L545.9,405.9 L549.1,405.5 L552.3,405.0 L555.5,404.4 L558.7,403.7 L561.9,402.9 L565.0,402.1 L568.2,401.1 L571.5,400.1 L574.8,398.9 L578.1,397.7 L581.5,396.3 L584.7,395.0 L587.8,393.6 L590.8,392.3 L593.5,391.0 L596.2,389.7 L598.8,388.3 L601.1,386.8 L603.3,385.1 L605.2,383.6 L606.8,382.1 L608.2,380.9 L609.3,380.0 L609.5,379.8 L609.5,379.5 L609.5,379.2 L609.3,379.0 L609.0,379.0 L608.7,379.0 L607.4,379.5 L605.6,380.2 L603.6,381.0 L601.4,381.9 L598.9,382.9 L596.5,384.1 L594.0,385.4 L591.5,386.6 L588.8,387.8 L585.9,389.1 L582.8,390.5 L579.6,391.8 L576.4,393.1 L573.1,394.3 L569.9,395.5 L566.8,396.5 L563.7,397.3 L560.6,398.2 L557.6,398.9 L554.5,399.6 L551.5,400.2 L548.4,400.7 L545.3,401.1 L542.3,401.4 L539.2,401.5 L536.1,401.6 L532.9,401.6 L529.7,401.5 L526.5,401.3 L523.5,401.1 L520.5,400.8 L517.8,400.6 L515.1,400.2 L512.5,399.9 L509.9,399.6 L507.3,399.4 L505.0,399.3 L502.8,399.2 L501.0,399.1 L499.6,399.1 L499.3,399.1 L499.1,399.2 L499.0,399.5 L499.0,399.8 L499.1,400.0Z"/>
<path d="M550.9,410.1 L552.7,410.2 L555.2,410.3 L558.1,410.5 L561.4,410.7 L564.8,410.9 L568.1,411.0 L571.2,411.0 L573.9,410.9 L576.3,410.7 L578.4,410.4 L580.3,410.0 L582.2,409.5 L583.9,409.0 L585.5,408.5 L587.0,408.0 L588.6,407.5 L590.3,406.9 L592.0,406.1 L593.6,405.2 L595.2,404.3 L596.6,403.5 L597.8,402.6 L598.9,401.9 L599.7,401.4 L599.9,401.3 L600.0,401.1 L599.9,400.8 L599.8,400.6 L599.6,400.5 L599.3,400.6 L598.4,400.8 L597.2,401.0 L595.7,401.4 L594.1,401.7 L592.4,402.2 L590.7,402.6 L589.0,403.1 L587.4,403.5 L585.8,404.0 L584.2,404.5 L582.6,405.0 L581.1,405.5 L579.4,405.9 L577.7,406.2 L575.8,406.5 L573.7,406.7 L571.2,406.8 L568.2,406.8 L565.0,406.7 L561.6,406.5 L558.4,406.3 L555.4,406.1 L552.9,406.0 L551.1,405.9 L550.0,406.1 L549.2,406.9 L548.9,407.9 L549.1,409.0 L549.9,409.8Z"/>
<path d="M501.4,416.4 L502.0,416.7 L502.8,417.2 L503.8,417.8 L504.9,418.4 L506.0,419.0 L507.2,419.6 L508.4,420.1 L509.6,420.5 L510.6,420.8 L511.5,421.1 L512.4,421.3 L513.3,421.5 L514.3,421.7 L515.5,421.8 L516.8,421.9 L518.3,421.9 L520.0,421.9 L521.9,421.9 L524.0,421.8 L526.2,421.7 L528.5,421.5 L530.8,421.3 L533.0,421.1 L535.2,420.9 L537.4,420.6 L539.7,420.2 L542.0,419.8 L544.2,419.4 L546.4,418.9 L548.5,418.5 L550.4,418.2 L552.0,417.9 L553.4,417.6 L554.7,417.5 L555.8,417.3 L556.7,417.2 L557.5,417.1 L558.4,417.0 L559.2,416.9 L560.0,416.9 L561.0,416.9 L561.9,416.9 L562.9,417.0 L563.8,417.1 L564.7,417.2 L565.6,417.3 L566.3,417.3 L566.8,417.4 L567.8,417.2 L568.6,416.6 L568.9,415.7 L568.7,414.7 L568.1,413.9 L567.2,413.6 L566.7,413.6 L566.0,413.5 L565.1,413.4 L564.2,413.3 L563.2,413.2 L562.1,413.1 L561.0,413.1 L560.0,413.1 L559.0,413.1 L558.1,413.2 L557.2,413.3 L556.2,413.4 L555.2,413.5 L554.1,413.7 L552.9,413.9 L551.4,414.1 L549.7,414.4 L547.8,414.8 L545.7,415.2 L543.5,415.6 L541.3,416.1 L539.0,416.5 L536.9,416.8 L534.8,417.1 L532.7,417.3 L530.5,417.5 L528.2,417.7 L526.0,417.9 L523.9,418.0 L521.8,418.1 L520.0,418.1 L518.3,418.1 L516.9,418.1 L515.8,418.0 L514.8,417.9 L514.0,417.8 L513.2,417.6 L512.3,417.4 L511.4,417.3 L510.4,417.1 L509.3,416.9 L508.1,416.7 L506.9,416.5 L505.6,416.2 L504.4,416.0 L503.3,415.9 L502.3,415.7 L501.6,415.6 L501.4,415.6 L501.2,415.7 L501.1,415.9 L501.1,416.1 L501.2,416.3Z"/>
<path d="M547.8,411.8 L547.9,412.0 L548.0,412.3 L548.2,412.7 L548.4,413.2 L548.6,413.7 L548.9,414.1 L549.1,414.6 L549.4,415.1 L549.8,415.5 L550.1,415.9 L550.5,416.3 L550.8,416.6 L551.1,416.9 L551.4,417.1 L551.6,417.3 L551.7,417.4 L552.6,417.9 L553.6,417.8 L554.4,417.3 L554.9,416.4 L554.8,415.4 L554.3,414.6 L554.1,414.4 L553.9,414.2 L553.6,414.0 L553.4,413.8 L553.1,413.6 L552.9,413.3 L552.7,413.1 L552.6,412.9 L552.4,412.7 L552.2,412.4 L552.0,412.0 L551.8,411.6 L551.7,411.2 L551.5,410.8 L551.3,410.4 L551.2,410.2 L550.6,409.4 L549.7,409.1 L548.7,409.3 L547.9,409.9 L547.6,410.8Z"/>
<path d="M567.1,417.5 L567.5,417.5 L568.1,417.4 L568.6,417.4 L569.2,417.3 L569.9,417.3 L570.7,417.3 L571.6,417.4 L572.5,417.5 L573.6,417.7 L575.0,418.0 L576.5,418.4 L578.1,418.8 L579.8,419.2 L581.5,419.6 L583.2,419.8 L584.9,420.0 L586.5,420.0 L588.0,419.9 L589.6,419.8 L591.0,419.5 L592.5,419.3 L593.8,419.0 L595.1,418.7 L596.4,418.5 L597.7,418.2 L598.9,417.9 L600.1,417.6 L601.2,417.3 L602.3,416.9 L603.4,416.6 L604.5,416.2 L605.6,415.7 L606.7,415.2 L607.9,414.6 L609.1,414.0 L610.2,413.3 L611.3,412.7 L612.3,412.1 L613.1,411.6 L613.7,411.2 L613.8,411.1 L613.9,410.9 L613.9,410.6 L613.8,410.5 L613.6,410.4 L613.3,410.4 L612.6,410.5 L611.7,410.7 L610.6,410.9 L609.4,411.2 L608.1,411.4 L606.8,411.7 L605.6,412.0 L604.4,412.3 L603.3,412.5 L602.2,412.8 L601.2,413.1 L600.1,413.4 L599.0,413.7 L597.9,414.0 L596.8,414.3 L595.6,414.5 L594.3,414.8 L593.0,415.1 L591.7,415.3 L590.4,415.6 L589.0,415.8 L587.7,415.9 L586.4,416.0 L585.1,416.0 L583.7,415.9 L582.3,415.6 L580.7,415.3 L579.1,414.9 L577.5,414.5 L575.9,414.1 L574.4,413.8 L573.1,413.5 L571.9,413.4 L570.8,413.3 L569.9,413.3 L569.0,413.3 L568.3,413.4 L567.7,413.4 L567.3,413.5 L566.9,413.5 L565.9,413.8 L565.2,414.6 L565.0,415.6 L565.3,416.6 L566.1,417.3Z"/>
<path d="M552.5,411.5 L553.2,411.6 L554.1,411.7 L555.1,411.8 L556.2,411.9 L557.4,412.1 L558.5,412.3 L559.5,412.6 L560.2,412.8 L560.9,413.2 L561.7,413.7 L562.5,414.2 L563.2,414.9 L564.0,415.5 L564.6,416.1 L565.3,416.7 L565.7,417.0 L566.7,417.5 L567.7,417.4 L568.5,416.8 L569.0,415.8 L568.9,414.8 L568.3,414.0 L567.9,413.6 L567.3,413.1 L566.6,412.5 L565.8,411.8 L564.9,411.1 L563.9,410.4 L562.9,409.7 L561.8,409.2 L560.6,408.7 L559.3,408.4 L558.1,408.2 L556.8,408.0 L555.6,407.8 L554.6,407.7 L553.7,407.6 L553.1,407.5 L552.1,407.6 L551.2,408.3 L550.8,409.2 L550.9,410.2 L551.6,411.1Z"/>
<path d="M503.6,437.0 L504.6,436.9 L505.9,436.9 L507.5,436.9 L509.2,436.9 L511.0,436.8 L512.9,436.6 L514.7,436.3 L516.4,436.0 L518.1,435.7 L519.8,435.3 L521.5,434.9 L523.2,434.5 L524.9,434.2 L526.6,433.8 L528.3,433.4 L529.8,433.1 L531.4,432.7 L532.9,432.4 L534.3,432.1 L535.8,431.8 L537.2,431.5 L538.7,431.2 L540.1,430.9 L541.5,430.5 L542.9,430.2 L544.3,429.8 L545.7,429.4 L547.1,429.1 L548.4,428.7 L549.7,428.3 L551.0,427.9 L552.3,427.5 L553.5,427.2 L554.8,426.8 L556.0,426.5 L557.2,426.1 L558.5,425.7 L559.7,425.3 L560.8,424.9 L561.9,424.4 L563.0,423.8 L564.1,423.1 L565.0,422.4 L565.9,421.7 L566.7,421.0 L567.4,420.4 L567.9,420.0 L568.3,419.6 L569.0,418.8 L569.1,417.7 L568.6,416.7 L567.8,416.0 L566.7,415.9 L565.7,416.4 L565.2,416.8 L564.6,417.3 L564.0,417.8 L563.2,418.4 L562.5,419.1 L561.7,419.6 L560.9,420.2 L560.1,420.6 L559.2,421.0 L558.2,421.4 L557.2,421.7 L556.0,422.1 L554.9,422.4 L553.6,422.8 L552.4,423.1 L551.1,423.5 L549.8,423.9 L548.6,424.2 L547.2,424.6 L545.9,425.0 L544.6,425.4 L543.2,425.8 L541.9,426.1 L540.5,426.5 L539.1,426.8 L537.8,427.1 L536.4,427.4 L534.9,427.7 L533.5,428.0 L532.0,428.3 L530.5,428.6 L529.0,428.9 L527.3,429.3 L525.7,429.7 L524.0,430.1 L522.3,430.5 L520.6,430.8 L518.9,431.2 L517.2,431.6 L515.6,432.0 L513.9,432.4 L512.1,432.9 L510.4,433.4 L508.6,434.0 L507.0,434.6 L505.6,435.2 L504.3,435.7 L503.4,436.0 L503.2,436.2 L503.1,436.4 L503.0,436.6 L503.2,436.8 L503.4,436.9Z"/>
<path d="M501.5,464.9 L502.0,464.4 L502.6,463.8 L503.3,463.1 L504.1,462.4 L504.9,461.6 L505.8,460.8 L506.7,460.0 L507.5,459.4 L508.3,458.8 L509.1,458.1 L510.0,457.5 L510.8,456.9 L511.7,456.3 L512.6,455.7 L513.5,455.0 L514.3,454.4 L515.2,453.8 L516.2,453.2 L517.1,452.7 L518.1,452.1 L519.1,451.6 L520.2,451.0 L521.2,450.4 L522.3,449.9 L523.3,449.3 L524.3,448.8 L525.3,448.3 L526.3,447.7 L527.3,447.2 L528.3,446.8 L529.3,446.3 L530.4,445.8 L531.6,445.3 L532.8,444.9 L534.1,444.4 L535.4,443.9 L536.7,443.5 L538.1,443.0 L539.5,442.5 L540.9,442.1 L542.3,441.6 L543.8,441.1 L545.2,440.5 L546.7,440.0 L548.2,439.5 L549.7,439.0 L551.1,438.5 L552.6,438.1 L553.9,437.6 L555.3,437.1 L556.6,436.7 L558.0,436.3 L559.3,435.8 L560.6,435.4 L561.9,435.0 L563.3,434.6 L564.6,434.2 L566.0,433.8 L567.3,433.4 L568.6,433.0 L570.0,432.6 L571.4,432.2 L572.8,431.9 L574.4,431.5 L576.2,431.2 L578.0,430.9 L580.0,430.6 L582.1,430.3 L584.2,430.0 L586.3,429.7 L588.4,429.5 L590.4,429.2 L592.4,428.9 L594.3,428.6 L596.3,428.3 L598.2,428.0 L600.0,427.7 L601.8,427.5 L603.5,427.3 L605.1,427.2 L606.6,427.2 L608.0,427.2 L609.5,427.4 L610.9,427.5 L612.3,427.7 L613.8,427.9 L615.3,428.1 L616.8,428.2 L618.4,428.3 L620.0,428.3 L621.5,428.3 L623.0,428.3 L624.4,428.3 L625.8,428.4 L627.1,428.5 L628.4,428.7 L629.6,429.1 L631.0,429.5 L632.5,430.0 L633.9,430.6 L635.3,431.2 L636.6,431.7 L637.7,432.2 L638.5,432.5 L639.9,432.7 L641.2,432.1 L642.0,431.0 L642.2,429.6 L641.6,428.3 L640.5,427.5 L639.7,427.2 L638.7,426.7 L637.4,426.2 L636.0,425.6 L634.4,425.0 L632.8,424.4 L631.1,423.9 L629.4,423.5 L627.8,423.2 L626.2,423.0 L624.6,423.0 L623.1,422.9 L621.5,422.9 L620.0,422.9 L618.6,422.9 L617.2,422.8 L615.8,422.7 L614.4,422.5 L613.0,422.3 L611.5,422.2 L610.0,422.0 L608.4,421.9 L606.7,421.8 L604.9,421.8 L603.1,421.9 L601.2,422.1 L599.3,422.3 L597.4,422.6 L595.4,422.9 L593.5,423.2 L591.5,423.5 L589.6,423.8 L587.6,424.1 L585.6,424.4 L583.5,424.7 L581.3,425.0 L579.2,425.3 L577.2,425.6 L575.2,425.9 L573.4,426.3 L571.7,426.6 L570.1,427.0 L568.6,427.4 L567.1,427.8 L565.8,428.2 L564.4,428.6 L563.1,429.0 L561.7,429.4 L560.3,429.8 L559.0,430.3 L557.6,430.7 L556.3,431.1 L554.9,431.6 L553.6,432.0 L552.2,432.5 L550.8,432.9 L549.4,433.4 L547.9,433.9 L546.5,434.4 L545.0,434.9 L543.5,435.4 L542.0,436.0 L540.5,436.5 L539.1,436.9 L537.7,437.4 L536.4,437.9 L535.0,438.4 L533.6,438.8 L532.3,439.3 L530.9,439.8 L529.6,440.3 L528.4,440.8 L527.1,441.3 L526.0,441.9 L524.9,442.4 L523.8,442.9 L522.8,443.5 L521.8,444.0 L520.7,444.6 L519.7,445.1 L518.7,445.7 L517.6,446.2 L516.6,446.8 L515.5,447.4 L514.4,448.0 L513.3,448.6 L512.3,449.3 L511.3,450.0 L510.3,450.7 L509.3,451.5 L508.4,452.3 L507.6,453.1 L506.7,453.9 L506.0,454.8 L505.2,455.7 L504.5,456.6 L503.8,457.6 L503.2,458.7 L502.6,459.8 L502.1,460.9 L501.6,461.9 L501.1,462.8 L500.8,463.6 L500.5,464.1 L500.4,464.4 L500.5,464.7 L500.6,465.0 L500.9,465.1 L501.2,465.0Z"/>
<path d="M557.6,441.1 L557.9,441.4 L558.3,441.9 L558.7,442.5 L559.2,443.2 L559.8,443.9 L560.5,444.7 L561.2,445.4 L562.0,445.9 L562.8,446.4 L563.6,446.8 L564.4,447.2 L565.2,447.6 L566.1,447.9 L567.1,448.1 L568.1,448.3 L569.2,448.4 L570.5,448.5 L571.8,448.5 L573.1,448.4 L574.5,448.3 L575.9,448.2 L577.2,448.1 L578.5,447.9 L579.6,447.8 L580.6,447.7 L581.7,447.6 L582.7,447.5 L583.6,447.3 L584.4,447.2 L585.2,447.1 L585.8,447.0 L586.3,446.9 L587.1,446.6 L587.6,445.8 L587.7,444.9 L587.4,444.1 L586.6,443.6 L585.7,443.5 L585.3,443.5 L584.6,443.6 L583.9,443.8 L583.1,443.9 L582.2,444.0 L581.2,444.1 L580.2,444.3 L579.2,444.4 L578.1,444.5 L576.9,444.6 L575.6,444.7 L574.2,444.8 L572.9,444.9 L571.7,445.0 L570.5,445.0 L569.6,445.0 L568.7,444.8 L567.9,444.7 L567.1,444.5 L566.4,444.3 L565.8,444.0 L565.1,443.7 L564.5,443.4 L564.0,443.1 L563.5,442.7 L563.0,442.2 L562.5,441.6 L562.0,441.0 L561.5,440.4 L561.1,439.8 L560.7,439.3 L560.4,438.9 L559.6,438.4 L558.7,438.3 L557.9,438.6 L557.4,439.4 L557.3,440.3Z"/>
<path d="M584.8,443.9 L584.5,444.2 L584.1,444.6 L583.5,445.0 L582.9,445.6 L582.2,446.2 L581.6,446.8 L581.0,447.4 L580.5,448.0 L580.2,448.6 L579.9,449.2 L579.8,449.8 L579.7,450.4 L579.6,451.1 L579.7,451.7 L579.9,452.3 L580.1,452.8 L580.3,453.3 L580.5,453.9 L580.8,454.6 L581.2,455.3 L581.8,456.0 L582.5,456.7 L583.3,457.3 L584.3,457.8 L585.4,458.2 L586.6,458.5 L587.9,458.8 L589.2,459.0 L590.7,459.2 L592.2,459.3 L593.7,459.3 L595.2,459.2 L596.7,459.1 L598.3,458.8 L600.0,458.4 L601.6,457.9 L603.2,457.4 L604.7,457.0 L606.1,456.5 L607.3,456.0 L608.4,455.6 L609.4,455.1 L610.2,454.6 L611.0,454.1 L611.6,453.7 L612.2,453.2 L612.7,452.7 L613.2,452.3 L613.7,451.7 L614.2,451.1 L614.6,450.5 L614.9,450.0 L615.1,449.5 L615.3,449.1 L615.4,448.8 L615.5,448.6 L615.6,447.7 L615.4,446.8 L614.7,446.2 L613.8,446.1 L612.9,446.3 L612.3,447.0 L612.2,447.3 L612.0,447.7 L611.9,448.1 L611.7,448.4 L611.5,448.8 L611.3,449.1 L611.1,449.4 L610.8,449.7 L610.4,450.1 L609.9,450.5 L609.5,450.9 L609.0,451.3 L608.4,451.6 L607.7,452.0 L607.0,452.4 L606.1,452.8 L604.9,453.2 L603.6,453.6 L602.2,454.1 L600.7,454.6 L599.1,455.0 L597.6,455.3 L596.2,455.6 L594.8,455.8 L593.6,455.8 L592.3,455.8 L591.0,455.7 L589.7,455.6 L588.5,455.4 L587.4,455.1 L586.4,454.9 L585.7,454.6 L585.1,454.3 L584.8,454.0 L584.4,453.7 L584.2,453.3 L583.9,452.9 L583.7,452.5 L583.5,452.0 L583.3,451.6 L583.2,451.2 L583.2,451.0 L583.1,450.9 L583.1,450.8 L583.2,450.6 L583.2,450.5 L583.3,450.2 L583.5,450.0 L583.7,449.7 L584.1,449.2 L584.6,448.7 L585.2,448.2 L585.8,447.7 L586.3,447.2 L586.8,446.8 L587.2,446.5 L587.7,445.8 L587.7,444.8 L587.3,444.0 L586.6,443.5 L585.6,443.5Z"/>
<path d="M597.8,444.5 L598.5,444.4 L599.5,444.2 L600.6,444.0 L601.9,443.8 L603.2,443.6 L604.6,443.4 L605.9,443.2 L607.2,443.0 L608.5,442.9 L609.8,442.8 L611.1,442.6 L612.4,442.5 L613.7,442.4 L615.1,442.3 L616.4,442.3 L617.8,442.2 L619.3,442.2 L620.7,442.3 L622.2,442.3 L623.8,442.4 L625.3,442.5 L626.9,442.5 L628.4,442.6 L629.9,442.7 L631.4,442.8 L633.0,442.9 L634.7,442.9 L636.4,442.9 L637.9,442.8 L639.4,442.7 L640.6,442.7 L641.5,442.6 L641.7,442.6 L641.8,442.4 L641.9,442.2 L641.9,442.0 L641.7,441.9 L641.5,441.8 L640.7,441.6 L639.5,441.2 L638.2,440.8 L636.7,440.4 L635.0,440.0 L633.4,439.6 L631.7,439.4 L630.1,439.3 L628.6,439.1 L627.1,439.0 L625.5,439.0 L623.9,438.9 L622.4,438.8 L620.8,438.8 L619.3,438.7 L617.8,438.8 L616.3,438.8 L614.9,438.8 L613.5,438.9 L612.1,439.0 L610.7,439.1 L609.4,439.3 L608.1,439.4 L606.8,439.6 L605.5,439.7 L604.1,439.9 L602.6,440.1 L601.3,440.4 L600.0,440.6 L598.9,440.8 L597.9,441.0 L597.2,441.1 L596.4,441.4 L595.9,442.2 L595.8,443.1 L596.1,443.9 L596.9,444.4Z"/>
<path d="M613.5,449.5 L613.8,449.6 L614.1,449.7 L614.5,449.8 L615.0,449.9 L615.7,450.0 L616.4,450.2 L617.4,450.4 L618.6,450.6 L620.0,450.9 L621.8,451.2 L623.8,451.6 L625.9,452.0 L628.1,452.4 L630.2,452.8 L632.3,453.1 L634.1,453.4 L635.8,453.7 L637.3,453.9 L638.8,454.2 L640.3,454.4 L641.7,454.6 L643.0,454.8 L644.4,455.0 L645.7,455.2 L647.1,455.5 L648.5,455.8 L650.0,456.0 L651.4,456.3 L652.7,456.6 L653.9,456.8 L654.9,457.1 L655.6,457.2 L656.6,457.2 L657.3,456.7 L657.7,455.9 L657.7,454.9 L657.2,454.2 L656.4,453.8 L655.6,453.6 L654.6,453.4 L653.4,453.2 L652.1,452.9 L650.7,452.6 L649.2,452.3 L647.7,452.0 L646.3,451.8 L644.9,451.5 L643.6,451.3 L642.2,451.1 L640.8,450.9 L639.4,450.7 L637.9,450.5 L636.3,450.2 L634.7,450.0 L632.9,449.7 L630.9,449.3 L628.7,448.9 L626.5,448.5 L624.4,448.1 L622.4,447.8 L620.7,447.5 L619.2,447.2 L618.1,447.0 L617.2,446.8 L616.4,446.6 L615.8,446.5 L615.4,446.4 L615.0,446.3 L614.6,446.2 L614.3,446.1 L613.4,446.1 L612.6,446.6 L612.2,447.4 L612.2,448.3 L612.7,449.1Z"/>
<path d="M651.2,443.8 L651.9,443.9 L652.9,444.0 L654.0,444.2 L655.3,444.4 L656.6,444.6 L658.0,444.9 L659.3,445.1 L660.6,445.4 L661.9,445.6 L663.4,446.0 L664.9,446.3 L666.4,446.7 L667.8,447.1 L669.1,447.4 L670.2,447.6 L671.1,447.8 L672.0,447.8 L672.9,447.3 L673.3,446.4 L673.3,445.5 L672.8,444.6 L671.9,444.2 L671.1,444.0 L670.0,443.7 L668.7,443.4 L667.3,443.0 L665.8,442.6 L664.2,442.3 L662.7,441.9 L661.4,441.6 L660.1,441.4 L658.7,441.1 L657.3,440.9 L655.9,440.7 L654.6,440.5 L653.5,440.3 L652.5,440.1 L651.8,440.0 L650.8,440.1 L650.0,440.7 L649.6,441.6 L649.7,442.6 L650.3,443.4Z"/>
<path d="M537.7,460.9 L538.2,460.8 L538.9,460.7 L539.7,460.5 L540.6,460.3 L541.6,460.1 L542.6,459.9 L543.6,459.7 L544.5,459.5 L545.5,459.3 L546.4,459.1 L547.4,458.8 L548.4,458.6 L549.3,458.3 L550.3,458.0 L551.3,457.7 L552.2,457.4 L553.2,457.2 L554.2,456.9 L555.3,456.6 L556.3,456.4 L557.3,456.1 L558.3,455.9 L559.4,455.7 L560.4,455.5 L561.4,455.2 L562.5,455.0 L563.5,454.8 L564.5,454.6 L565.5,454.5 L566.5,454.3 L567.4,454.2 L568.3,454.2 L569.2,454.2 L570.2,454.3 L571.1,454.4 L572.1,454.5 L573.0,454.6 L573.8,454.8 L574.7,455.0 L575.4,455.2 L576.0,455.4 L576.7,455.7 L577.3,456.1 L577.9,456.4 L578.5,456.8 L579.1,457.2 L579.6,457.5 L580.0,457.7 L581.0,458.0 L582.0,457.7 L582.7,457.0 L583.0,456.0 L582.7,455.0 L582.0,454.3 L581.7,454.1 L581.3,453.8 L580.7,453.4 L580.0,453.0 L579.3,452.6 L578.4,452.1 L577.5,451.7 L576.6,451.4 L575.7,451.1 L574.7,450.9 L573.7,450.7 L572.7,450.5 L571.6,450.4 L570.5,450.3 L569.4,450.2 L568.3,450.2 L567.2,450.2 L566.0,450.4 L564.9,450.5 L563.8,450.7 L562.8,450.9 L561.7,451.1 L560.6,451.3 L559.6,451.5 L558.5,451.8 L557.5,452.0 L556.4,452.2 L555.3,452.5 L554.3,452.7 L553.2,453.0 L552.2,453.3 L551.2,453.6 L550.1,453.9 L549.1,454.2 L548.1,454.5 L547.1,454.9 L546.2,455.2 L545.2,455.6 L544.3,456.1 L543.5,456.5 L542.6,456.9 L541.7,457.4 L540.8,458.0 L539.9,458.5 L539.1,459.0 L538.4,459.4 L537.8,459.8 L537.3,460.1 L537.2,460.2 L537.1,460.4 L537.1,460.7 L537.2,460.8 L537.4,460.9Z"/>
<path d="M521.3,480.4 L521.9,480.2 L522.7,480.0 L523.6,479.6 L524.6,479.3 L525.8,478.9 L526.9,478.4 L527.9,478.0 L528.9,477.6 L529.9,477.3 L530.8,476.9 L531.7,476.4 L532.5,476.0 L533.4,475.6 L534.3,475.2 L535.1,474.8 L536.0,474.3 L536.9,473.9 L537.9,473.5 L538.8,473.1 L539.8,472.7 L540.7,472.3 L541.7,471.9 L542.7,471.6 L543.7,471.2 L544.7,470.9 L545.7,470.6 L546.8,470.3 L547.8,470.1 L548.9,469.8 L549.9,469.5 L551.1,469.3 L552.2,469.0 L553.4,468.7 L554.6,468.4 L555.9,468.2 L557.1,467.9 L558.4,467.6 L559.7,467.4 L561.1,467.1 L562.5,466.8 L563.9,466.5 L565.3,466.2 L566.7,465.9 L568.1,465.6 L569.5,465.3 L571.0,465.0 L572.6,464.8 L574.2,464.5 L576.0,464.3 L578.0,464.2 L580.1,464.0 L582.2,463.9 L584.4,463.8 L586.5,463.6 L588.4,463.5 L590.2,463.3 L591.9,463.1 L593.5,462.9 L595.0,462.7 L596.4,462.5 L597.6,462.3 L598.7,462.1 L599.7,461.9 L600.4,461.8 L601.5,461.3 L602.2,460.3 L602.3,459.1 L601.8,458.0 L600.8,457.3 L599.6,457.2 L598.9,457.3 L597.9,457.5 L596.9,457.6 L595.6,457.9 L594.3,458.1 L592.8,458.3 L591.3,458.5 L589.8,458.7 L588.1,458.8 L586.2,459.0 L584.1,459.1 L581.9,459.2 L579.7,459.3 L577.6,459.5 L575.5,459.7 L573.6,459.9 L571.8,460.1 L570.2,460.4 L568.6,460.7 L567.1,461.0 L565.7,461.3 L564.3,461.6 L562.9,461.9 L561.5,462.2 L560.2,462.5 L558.8,462.8 L557.5,463.0 L556.2,463.3 L554.9,463.6 L553.6,463.9 L552.4,464.1 L551.2,464.4 L550.0,464.7 L548.8,465.0 L547.7,465.2 L546.6,465.5 L545.5,465.8 L544.4,466.1 L543.4,466.4 L542.3,466.8 L541.2,467.1 L540.1,467.5 L539.1,467.9 L538.0,468.3 L537.0,468.7 L536.0,469.2 L535.0,469.6 L534.0,470.1 L533.0,470.5 L532.1,471.0 L531.2,471.5 L530.3,472.1 L529.5,472.6 L528.7,473.2 L527.9,473.8 L527.1,474.4 L526.2,475.0 L525.3,475.7 L524.4,476.5 L523.5,477.2 L522.6,477.9 L521.9,478.6 L521.2,479.1 L520.7,479.6 L520.6,479.7 L520.5,480.0 L520.6,480.3 L520.7,480.4 L521.0,480.5Z"/>
<path d="M557.2,474.0 L557.9,473.7 L558.8,473.4 L559.8,473.0 L560.9,472.6 L562.1,472.2 L563.3,471.7 L564.5,471.3 L565.6,471.0 L566.6,470.7 L567.6,470.4 L568.6,470.1 L569.5,469.9 L570.5,469.6 L571.5,469.4 L572.7,469.3 L574.1,469.1 L575.7,468.9 L577.4,468.8 L579.2,468.7 L581.2,468.6 L583.2,468.6 L585.4,468.6 L587.6,468.6 L589.9,468.6 L592.4,468.7 L595.0,468.8 L597.7,469.1 L600.6,469.3 L603.5,469.5 L606.4,469.7 L609.3,469.8 L612.2,469.9 L615.0,469.9 L617.9,469.7 L620.7,469.5 L623.5,469.3 L626.2,469.0 L628.9,468.9 L631.6,468.8 L634.3,468.8 L637.1,469.0 L640.1,469.2 L643.1,469.5 L646.1,469.9 L649.0,470.3 L651.7,470.8 L654.2,471.1 L656.4,471.5 L658.1,471.8 L659.6,472.0 L660.8,472.3 L661.8,472.5 L662.7,472.7 L663.6,472.8 L664.5,473.0 L665.5,473.2 L666.6,473.4 L667.7,473.6 L668.8,473.8 L669.9,474.0 L671.0,474.2 L671.9,474.4 L672.7,474.5 L673.3,474.6 L673.6,474.7 L673.8,474.6 L673.9,474.4 L674.0,474.1 L673.9,473.9 L673.7,473.8 L673.1,473.4 L672.5,473.0 L671.6,472.5 L670.7,472.0 L669.7,471.4 L668.7,470.8 L667.6,470.3 L666.5,469.8 L665.5,469.4 L664.7,469.1 L663.7,468.7 L662.8,468.4 L661.7,468.2 L660.4,467.9 L658.8,467.6 L657.0,467.3 L654.9,467.0 L652.4,466.6 L649.6,466.2 L646.6,465.8 L643.6,465.4 L640.5,465.0 L637.4,464.8 L634.5,464.6 L631.6,464.6 L628.7,464.7 L625.9,464.8 L623.1,465.1 L620.4,465.3 L617.6,465.5 L614.9,465.7 L612.2,465.7 L609.5,465.6 L606.6,465.5 L603.8,465.3 L600.9,465.1 L598.0,464.9 L595.3,464.7 L592.6,464.5 L590.1,464.4 L587.7,464.4 L585.4,464.4 L583.2,464.4 L581.0,464.4 L579.0,464.5 L577.1,464.6 L575.4,464.8 L573.7,464.9 L572.2,465.1 L570.8,465.3 L569.6,465.5 L568.5,465.8 L567.4,466.1 L566.4,466.4 L565.4,466.7 L564.4,467.0 L563.2,467.3 L562.0,467.8 L560.7,468.2 L559.5,468.7 L558.3,469.1 L557.3,469.5 L556.4,469.8 L555.8,470.0 L554.9,470.7 L554.4,471.6 L554.5,472.7 L555.2,473.6 L556.1,474.1Z"/>
<path d="M683.6,478.1 L684.4,478.7 L685.5,479.4 L686.7,480.3 L688.1,481.2 L689.6,482.1 L691.2,483.0 L692.8,483.8 L694.3,484.5 L695.8,485.2 L697.5,486.1 L699.2,486.9 L701.1,487.6 L702.8,488.3 L704.4,488.8 L705.8,489.2 L706.8,489.5 L707.0,489.6 L707.2,489.5 L707.3,489.4 L707.4,489.2 L707.3,489.0 L707.2,488.9 L706.3,488.2 L705.2,487.3 L703.9,486.3 L702.3,485.2 L700.7,484.1 L699.0,483.2 L697.3,482.3 L695.7,481.5 L694.2,480.8 L692.6,480.0 L690.9,479.4 L689.2,478.8 L687.6,478.4 L686.1,478.0 L684.9,477.7 L684.0,477.5 L683.8,477.4 L683.6,477.5 L683.5,477.6 L683.4,477.8 L683.5,478.0Z"/>
<path d="M512.4,489.1 L513.0,488.8 L513.9,488.4 L514.9,488.0 L516.0,487.5 L517.2,487.0 L518.5,486.5 L519.7,486.0 L520.8,485.6 L522.0,485.2 L523.1,484.7 L524.3,484.2 L525.5,483.8 L526.7,483.4 L527.8,482.9 L529.0,482.5 L530.1,482.1 L531.2,481.8 L532.3,481.4 L533.3,481.1 L534.3,480.8 L535.4,480.5 L536.4,480.2 L537.5,480.0 L538.6,479.7 L539.7,479.4 L540.9,479.1 L542.1,478.8 L543.2,478.5 L544.4,478.2 L545.5,478.0 L546.4,477.8 L547.3,477.7 L548.1,477.8 L548.9,477.8 L549.8,478.0 L550.6,478.2 L551.4,478.4 L552.2,478.6 L552.8,478.8 L553.4,478.9 L554.6,478.9 L555.5,478.2 L556.1,477.2 L556.1,476.0 L555.4,475.1 L554.4,474.5 L554.0,474.4 L553.4,474.2 L552.6,474.0 L551.6,473.8 L550.6,473.6 L549.5,473.4 L548.3,473.3 L547.1,473.3 L545.9,473.4 L544.7,473.5 L543.4,473.8 L542.2,474.1 L541.0,474.4 L539.7,474.7 L538.6,475.0 L537.4,475.3 L536.3,475.6 L535.2,475.9 L534.2,476.2 L533.1,476.5 L532.0,476.8 L530.9,477.1 L529.8,477.5 L528.7,477.9 L527.5,478.3 L526.3,478.7 L525.1,479.1 L523.9,479.6 L522.7,480.0 L521.5,480.5 L520.3,481.0 L519.2,481.4 L518.0,481.9 L516.8,482.4 L515.5,482.9 L514.3,483.4 L513.2,483.9 L512.1,484.3 L511.3,484.7 L510.6,484.9 L509.7,485.6 L509.3,486.7 L509.4,487.9 L510.1,488.8 L511.2,489.2Z"/>
<path d="M503.3,507.4 L503.9,507.0 L504.8,506.5 L505.7,505.9 L506.8,505.3 L507.9,504.6 L509.1,503.9 L510.2,503.2 L511.2,502.6 L512.2,502.0 L513.3,501.3 L514.3,500.6 L515.4,500.0 L516.4,499.3 L517.4,498.6 L518.4,498.0 L519.4,497.5 L520.3,497.0 L521.2,496.5 L522.1,496.1 L523.0,495.6 L523.9,495.3 L524.8,494.9 L525.8,494.5 L526.8,494.1 L527.9,493.7 L528.9,493.3 L530.0,492.9 L531.1,492.5 L532.2,492.1 L533.3,491.8 L534.4,491.5 L535.5,491.2 L536.6,491.0 L537.7,490.8 L539.0,490.7 L540.2,490.6 L541.4,490.5 L542.7,490.4 L543.9,490.3 L545.1,490.2 L546.3,490.2 L547.6,490.1 L548.9,490.1 L550.1,490.1 L551.3,490.1 L552.3,490.1 L553.2,490.1 L553.9,490.0 L555.1,489.7 L555.9,488.9 L556.1,487.8 L555.8,486.6 L555.0,485.8 L553.9,485.6 L553.2,485.6 L552.3,485.6 L551.2,485.6 L550.0,485.6 L548.8,485.6 L547.4,485.6 L546.1,485.7 L544.9,485.8 L543.7,485.8 L542.4,485.9 L541.1,486.0 L539.8,486.1 L538.5,486.2 L537.2,486.4 L535.8,486.6 L534.5,486.8 L533.3,487.1 L532.0,487.4 L530.8,487.8 L529.6,488.2 L528.5,488.6 L527.3,489.1 L526.2,489.5 L525.2,489.9 L524.2,490.3 L523.1,490.7 L522.2,491.1 L521.2,491.5 L520.2,492.0 L519.2,492.5 L518.2,493.0 L517.2,493.5 L516.1,494.2 L515.1,494.8 L514.0,495.5 L512.9,496.2 L511.8,497.0 L510.7,497.8 L509.7,498.6 L508.8,499.4 L507.9,500.3 L506.9,501.3 L506.0,502.4 L505.2,503.4 L504.4,504.4 L503.7,505.3 L503.1,506.1 L502.7,506.6 L502.5,506.8 L502.5,507.1 L502.6,507.3 L502.8,507.5 L503.1,507.5Z"/>
<path d="M503.3,538.2 L503.7,537.6 L504.3,536.7 L505.0,535.7 L505.8,534.6 L506.6,533.4 L507.4,532.2 L508.1,531.1 L508.9,530.0 L509.6,529.0 L510.3,527.9 L511.1,526.8 L511.8,525.7 L512.5,524.6 L513.2,523.5 L514.0,522.5 L514.7,521.5 L515.5,520.6 L516.3,519.8 L517.1,518.9 L517.9,518.1 L518.7,517.3 L519.6,516.5 L520.6,515.7 L521.5,514.9 L522.6,514.1 L523.7,513.3 L524.8,512.5 L526.0,511.7 L527.2,510.9 L528.4,510.2 L529.6,509.5 L530.6,508.8 L531.6,508.2 L532.6,507.7 L533.4,507.3 L534.3,506.9 L535.1,506.5 L536.0,506.1 L536.9,505.7 L537.9,505.3 L539.0,504.9 L540.1,504.4 L541.2,504.0 L542.3,503.6 L543.5,503.2 L544.5,502.9 L545.6,502.6 L546.5,502.4 L547.4,502.2 L548.2,502.1 L549.0,502.0 L549.7,502.0 L550.5,502.0 L551.3,501.9 L552.1,501.9 L553.0,501.9 L553.9,502.0 L554.9,502.0 L555.9,502.1 L557.0,502.2 L558.0,502.2 L558.9,502.3 L559.7,502.4 L560.3,502.4 L561.6,502.2 L562.5,501.4 L562.9,500.2 L562.7,498.9 L561.9,498.0 L560.7,497.6 L560.1,497.5 L559.4,497.4 L558.4,497.4 L557.4,497.3 L556.3,497.2 L555.2,497.1 L554.0,497.1 L553.0,497.1 L552.1,497.0 L551.3,497.0 L550.4,497.1 L549.5,497.1 L548.5,497.1 L547.6,497.2 L546.6,497.4 L545.5,497.6 L544.3,497.9 L543.2,498.2 L542.0,498.6 L540.7,499.0 L539.5,499.4 L538.3,499.8 L537.2,500.3 L536.1,500.7 L535.1,501.1 L534.1,501.6 L533.1,502.0 L532.2,502.4 L531.2,502.9 L530.2,503.4 L529.2,504.0 L528.2,504.6 L527.0,505.3 L525.8,506.0 L524.6,506.8 L523.3,507.6 L522.1,508.5 L520.8,509.3 L519.6,510.2 L518.5,511.1 L517.4,511.9 L516.4,512.8 L515.4,513.7 L514.5,514.6 L513.6,515.5 L512.6,516.4 L511.8,517.4 L510.9,518.5 L510.0,519.6 L509.2,520.7 L508.4,521.9 L507.6,523.1 L506.9,524.3 L506.3,525.5 L505.7,526.7 L505.1,528.0 L504.6,529.3 L504.1,530.7 L503.7,532.1 L503.3,533.5 L503.0,534.8 L502.7,536.0 L502.5,537.0 L502.3,537.8 L502.3,538.1 L502.4,538.3 L502.6,538.5 L502.9,538.5 L503.1,538.4Z"/>
<path d="M537.5,524.4 L537.8,524.0 L538.3,523.5 L538.8,522.9 L539.3,522.3 L539.9,521.7 L540.5,521.1 L541.1,520.6 L541.7,520.1 L542.2,519.7 L542.8,519.3 L543.4,518.9 L544.1,518.5 L544.9,518.1 L545.6,517.7 L546.5,517.2 L547.3,516.7 L548.3,516.2 L549.2,515.7 L550.2,515.1 L551.2,514.5 L552.2,514.0 L553.2,513.4 L554.1,512.9 L555.1,512.5 L556.1,512.0 L557.1,511.6 L558.1,511.2 L559.2,510.8 L560.3,510.5 L561.4,510.1 L562.5,509.7 L563.7,509.2 L565.0,508.8 L566.2,508.3 L567.4,507.8 L568.7,507.4 L569.9,506.9 L571.2,506.4 L572.5,506.0 L573.8,505.6 L575.2,505.2 L576.6,504.8 L578.1,504.4 L579.7,504.0 L581.2,503.6 L582.7,503.3 L584.2,503.0 L585.6,502.6 L586.9,502.3 L588.2,502.1 L589.4,501.8 L590.7,501.5 L591.8,501.3 L593.0,501.1 L594.2,500.9 L595.4,500.7 L596.7,500.5 L598.1,500.3 L599.5,500.1 L601.0,499.9 L602.3,499.7 L603.5,499.6 L604.6,499.5 L605.3,499.4 L606.6,498.9 L607.5,497.8 L607.7,496.4 L607.2,495.1 L606.1,494.2 L604.7,494.0 L603.9,494.1 L602.9,494.2 L601.7,494.4 L600.3,494.5 L598.8,494.7 L597.4,494.9 L595.9,495.1 L594.6,495.3 L593.3,495.5 L592.1,495.8 L590.8,496.0 L589.6,496.2 L588.3,496.5 L587.1,496.8 L585.8,497.1 L584.4,497.4 L583.0,497.7 L581.5,498.0 L579.9,498.4 L578.4,498.8 L576.8,499.2 L575.2,499.6 L573.7,500.0 L572.2,500.4 L570.8,500.9 L569.4,501.3 L568.1,501.8 L566.7,502.3 L565.5,502.8 L564.2,503.3 L563.0,503.7 L561.9,504.2 L560.7,504.6 L559.6,505.0 L558.5,505.4 L557.4,505.8 L556.2,506.2 L555.1,506.6 L554.0,507.1 L552.9,507.5 L551.7,508.1 L550.6,508.7 L549.6,509.2 L548.5,509.8 L547.5,510.4 L546.5,511.0 L545.5,511.5 L544.7,512.1 L543.8,512.5 L543.0,513.0 L542.2,513.4 L541.4,513.9 L540.7,514.3 L539.9,514.8 L539.1,515.3 L538.3,515.9 L537.6,516.5 L536.8,517.2 L536.1,517.9 L535.4,518.6 L534.8,519.3 L534.3,519.8 L533.9,520.3 L533.5,520.6 L532.9,521.9 L532.9,523.3 L533.6,524.5 L534.9,525.1 L536.3,525.1Z"/>
<path d="M522.7,538.2 L522.9,537.9 L523.2,537.6 L523.5,537.2 L523.8,536.7 L524.2,536.2 L524.5,535.8 L524.9,535.3 L525.2,534.9 L525.5,534.6 L525.8,534.2 L526.1,533.8 L526.4,533.4 L526.7,533.1 L527.0,532.8 L527.3,532.5 L527.4,532.3 L527.8,531.6 L527.7,530.8 L527.3,530.2 L526.6,529.8 L525.8,529.9 L525.2,530.3 L525.0,530.5 L524.8,530.8 L524.5,531.1 L524.2,531.5 L523.8,531.9 L523.5,532.3 L523.2,532.7 L522.8,533.1 L522.5,533.5 L522.1,533.9 L521.8,534.4 L521.4,534.9 L521.1,535.4 L520.8,535.8 L520.5,536.1 L520.3,536.4 L520.0,537.1 L520.1,537.9 L520.6,538.5 L521.3,538.8 L522.1,538.7Z"/>
<path d="M551.2,478.8 L551.5,479.2 L551.9,479.7 L552.4,480.3 L553.0,481.1 L553.5,481.8 L554.1,482.6 L554.8,483.4 L555.4,484.1 L556.0,484.9 L556.7,485.7 L557.3,486.4 L558.0,487.1 L558.6,487.8 L559.1,488.5 L559.6,489.1 L560.0,489.7 L560.4,490.3 L560.8,490.9 L561.1,491.5 L561.4,491.9 L561.5,492.2 L561.6,492.4 L561.6,492.6 L561.6,492.6 L561.6,492.8 L561.4,493.2 L561.0,493.9 L560.5,494.7 L559.9,495.7 L559.3,496.9 L558.8,498.3 L558.6,500.0 L558.8,501.6 L559.2,503.0 L559.8,504.2 L560.4,505.2 L561.0,506.1 L561.5,506.9 L561.9,507.4 L562.1,507.7 L563.3,509.0 L565.1,509.4 L566.7,508.9 L568.0,507.7 L568.4,505.9 L567.9,504.3 L567.6,503.7 L567.1,503.0 L566.7,502.3 L566.2,501.7 L565.8,501.0 L565.5,500.4 L565.4,500.1 L565.4,500.0 L565.4,500.0 L565.6,499.7 L565.9,499.0 L566.4,498.2 L566.9,497.2 L567.5,496.1 L568.1,494.8 L568.4,493.4 L568.4,492.0 L568.2,490.8 L567.8,489.7 L567.4,488.8 L567.0,488.0 L566.5,487.3 L566.1,486.6 L565.6,485.9 L565.1,485.1 L564.4,484.3 L563.8,483.5 L563.1,482.7 L562.4,481.9 L561.8,481.2 L561.2,480.5 L560.6,479.9 L560.1,479.2 L559.5,478.4 L558.9,477.7 L558.3,476.9 L557.8,476.2 L557.3,475.6 L556.9,475.0 L556.6,474.6 L555.2,473.6 L553.5,473.3 L551.8,474.0 L550.8,475.4 L550.5,477.1Z"/>
<path d="M562.9,488.6 L563.8,488.6 L565.1,488.5 L566.5,488.4 L568.2,488.4 L569.9,488.3 L571.7,488.2 L573.4,488.2 L575.1,488.1 L576.7,488.0 L578.3,488.0 L579.9,487.9 L581.5,487.9 L583.2,487.8 L584.8,487.8 L586.4,487.7 L588.1,487.7 L589.7,487.6 L591.5,487.5 L593.3,487.3 L595.1,487.0 L596.8,486.7 L598.3,486.4 L599.6,486.1 L600.5,485.9 L600.7,485.9 L600.9,485.7 L600.9,485.5 L600.9,485.3 L600.7,485.1 L600.5,485.1 L599.5,484.9 L598.2,484.7 L596.7,484.5 L595.0,484.2 L593.2,484.1 L591.4,483.9 L589.6,483.9 L587.9,483.9 L586.3,483.9 L584.7,484.0 L583.1,484.0 L581.4,484.1 L579.8,484.1 L578.1,484.2 L576.5,484.2 L574.9,484.3 L573.3,484.4 L571.5,484.4 L569.8,484.5 L568.0,484.6 L566.4,484.6 L564.9,484.7 L563.7,484.8 L562.7,484.8 L561.8,485.1 L561.1,485.8 L560.9,486.8 L561.2,487.7 L561.9,488.4Z"/>
<path d="M567.6,499.6 L568.4,499.5 L569.4,499.2 L570.6,498.9 L571.9,498.6 L573.3,498.3 L574.7,498.0 L576.1,497.6 L577.4,497.4 L578.6,497.1 L579.9,496.8 L581.2,496.6 L582.4,496.3 L583.7,496.0 L584.9,495.8 L586.1,495.6 L587.3,495.3 L588.5,495.0 L589.8,494.6 L591.0,494.3 L592.3,493.9 L593.5,493.5 L594.5,493.1 L595.4,492.8 L596.1,492.6 L596.3,492.5 L596.4,492.4 L596.4,492.1 L596.3,491.9 L596.2,491.8 L595.9,491.8 L595.2,491.7 L594.3,491.7 L593.2,491.6 L592.0,491.6 L590.7,491.5 L589.3,491.6 L588.0,491.6 L586.7,491.7 L585.5,491.9 L584.2,492.1 L582.9,492.3 L581.7,492.6 L580.4,492.8 L579.1,493.1 L577.8,493.4 L576.6,493.6 L575.3,493.9 L573.9,494.3 L572.4,494.6 L571.0,494.9 L569.7,495.2 L568.5,495.5 L567.5,495.8 L566.8,496.0 L565.9,496.4 L565.4,497.3 L565.4,498.2 L565.8,499.1 L566.7,499.6Z"/>
<path d="M590.3,484.6 L591.6,484.5 L593.2,484.2 L595.1,484.0 L597.2,483.7 L599.5,483.4 L601.8,483.1 L604.1,482.8 L606.2,482.6 L608.3,482.5 L610.4,482.3 L612.6,482.2 L614.7,482.0 L616.9,481.9 L619.0,481.9 L621.2,481.8 L623.2,481.8 L625.3,481.9 L627.4,482.0 L629.4,482.2 L631.4,482.4 L633.5,482.6 L635.5,482.8 L637.6,483.1 L639.6,483.4 L641.7,483.7 L643.8,484.1 L645.9,484.5 L648.0,484.9 L650.1,485.4 L652.1,485.8 L654.2,486.3 L656.1,486.8 L658.0,487.3 L659.8,487.8 L661.6,488.3 L663.3,488.8 L665.1,489.3 L666.8,489.9 L668.5,490.5 L670.2,491.1 L671.9,491.7 L673.6,492.4 L675.3,493.1 L677.0,493.8 L678.7,494.6 L680.4,495.3 L681.9,496.0 L683.4,496.6 L684.8,497.3 L686.1,497.8 L687.3,498.4 L688.5,498.9 L689.7,499.4 L690.8,499.9 L691.9,500.3 L693.0,500.8 L694.1,501.2 L695.3,501.7 L696.5,502.2 L697.7,502.7 L698.8,503.2 L699.7,503.6 L700.6,504.0 L701.2,504.3 L701.5,504.3 L701.7,504.3 L702.0,504.1 L702.0,503.8 L702.0,503.6 L701.8,503.3 L701.3,502.9 L700.7,502.2 L699.9,501.5 L699.0,500.6 L698.1,499.8 L697.1,498.9 L696.0,498.0 L695.0,497.2 L693.9,496.5 L692.9,495.8 L691.8,495.2 L690.6,494.6 L689.4,494.0 L688.1,493.4 L686.8,492.8 L685.4,492.2 L683.9,491.5 L682.3,490.8 L680.7,490.1 L679.0,489.3 L677.2,488.6 L675.4,487.9 L673.6,487.2 L671.8,486.5 L670.1,485.9 L668.3,485.3 L666.6,484.7 L664.8,484.1 L663.0,483.6 L661.1,483.0 L659.2,482.5 L657.3,482.0 L655.3,481.5 L653.2,481.0 L651.1,480.6 L649.0,480.1 L646.8,479.7 L644.7,479.3 L642.5,478.9 L640.4,478.6 L638.3,478.3 L636.2,478.0 L634.0,477.7 L631.9,477.5 L629.8,477.3 L627.7,477.1 L625.5,477.0 L623.4,477.0 L621.2,476.9 L618.9,477.0 L616.7,477.0 L614.5,477.1 L612.3,477.3 L610.1,477.4 L607.9,477.6 L605.8,477.8 L603.6,478.0 L601.2,478.2 L598.9,478.5 L596.6,478.8 L594.4,479.1 L592.5,479.4 L590.9,479.6 L589.7,479.8 L588.5,480.3 L587.7,481.3 L587.6,482.5 L588.1,483.7 L589.1,484.5Z"/>
<path d="M590.0,498.2 L590.7,498.2 L591.7,498.2 L592.9,498.2 L594.2,498.3 L595.6,498.3 L597.1,498.3 L598.6,498.3 L600.0,498.3 L601.5,498.3 L603.0,498.2 L604.5,498.2 L606.1,498.1 L607.6,498.1 L609.2,498.0 L610.7,498.0 L612.2,498.0 L613.7,498.0 L615.2,498.0 L616.7,498.0 L618.2,498.1 L619.7,498.1 L621.1,498.2 L622.5,498.2 L623.9,498.3 L625.2,498.4 L626.7,498.5 L628.1,498.6 L629.4,498.8 L630.7,498.9 L631.9,499.0 L632.9,499.1 L633.6,499.2 L634.6,499.0 L635.4,498.4 L635.8,497.4 L635.6,496.4 L635.0,495.6 L634.0,495.2 L633.3,495.1 L632.3,495.0 L631.1,494.9 L629.8,494.8 L628.4,494.6 L627.0,494.5 L625.5,494.4 L624.1,494.3 L622.7,494.2 L621.3,494.2 L619.8,494.1 L618.3,494.1 L616.8,494.0 L615.2,494.0 L613.7,494.0 L612.2,494.0 L610.7,494.0 L609.1,494.0 L607.5,494.1 L605.9,494.1 L604.4,494.2 L602.8,494.2 L601.4,494.3 L600.0,494.3 L598.6,494.3 L597.1,494.3 L595.7,494.3 L594.3,494.3 L593.0,494.2 L591.8,494.2 L590.8,494.2 L590.0,494.2 L589.0,494.5 L588.3,495.2 L588.0,496.2 L588.3,497.2 L589.0,497.9Z"/>
<path d="M598.7,483.4 L599.0,483.7 L599.4,484.1 L600.0,484.6 L600.5,485.1 L601.1,485.7 L601.6,486.2 L602.1,486.8 L602.5,487.2 L602.8,487.6 L603.1,488.0 L603.3,488.4 L603.6,488.9 L603.9,489.5 L604.3,490.1 L604.8,490.7 L605.4,491.3 L606.0,492.0 L606.8,492.6 L607.6,493.2 L608.4,493.8 L609.2,494.3 L609.9,494.8 L610.5,495.2 L610.9,495.5 L611.8,495.9 L612.8,495.7 L613.5,495.1 L613.9,494.2 L613.7,493.2 L613.1,492.5 L612.7,492.1 L612.1,491.7 L611.4,491.2 L610.6,490.7 L609.9,490.2 L609.1,489.6 L608.5,489.1 L608.0,488.7 L607.7,488.3 L607.4,487.9 L607.2,487.5 L606.9,487.1 L606.6,486.6 L606.3,486.0 L605.9,485.4 L605.5,484.8 L604.9,484.2 L604.4,483.6 L603.8,483.0 L603.2,482.4 L602.6,481.8 L602.1,481.3 L601.6,480.9 L601.3,480.6 L600.5,480.2 L599.5,480.2 L598.6,480.7 L598.2,481.5 L598.2,482.5Z"/>
<path d="M643.5,501.2 L644.4,501.5 L645.6,501.8 L647.1,502.2 L648.7,502.6 L650.4,503.1 L652.1,503.6 L653.8,504.0 L655.4,504.5 L657.0,505.0 L658.7,505.5 L660.4,506.1 L662.2,506.7 L663.8,507.3 L665.3,507.8 L666.6,508.2 L667.5,508.5 L668.6,508.6 L669.6,508.1 L670.2,507.2 L670.3,506.1 L669.8,505.1 L668.9,504.5 L667.9,504.2 L666.7,503.8 L665.2,503.3 L663.5,502.7 L661.8,502.1 L660.0,501.5 L658.2,501.0 L656.6,500.5 L655.0,500.0 L653.3,499.5 L651.5,499.0 L649.8,498.6 L648.2,498.1 L646.7,497.7 L645.5,497.4 L644.5,497.2 L643.5,497.2 L642.5,497.7 L642.0,498.7 L642.0,499.7 L642.5,500.7Z"/>
<path d="M679.0,513.4 L679.4,513.5 L679.9,513.7 L680.5,514.0 L681.2,514.2 L681.9,514.5 L682.6,514.7 L683.4,515.0 L684.0,515.2 L684.7,515.4 L685.4,515.7 L686.2,515.9 L686.9,516.1 L687.6,516.3 L688.2,516.5 L688.7,516.6 L689.1,516.7 L689.9,516.8 L690.5,516.4 L690.9,515.7 L691.0,514.9 L690.6,514.3 L689.9,513.9 L689.5,513.7 L689.0,513.6 L688.4,513.4 L687.7,513.2 L687.0,513.0 L686.3,512.8 L685.6,512.6 L685.0,512.4 L684.3,512.2 L683.6,511.9 L682.9,511.7 L682.2,511.4 L681.5,511.1 L680.9,510.9 L680.4,510.7 L680.0,510.6 L679.2,510.5 L678.5,510.8 L678.1,511.5 L678.0,512.3 L678.3,513.0Z"/>
<path d="M538.2,545.9 L538.4,545.4 L538.7,544.8 L539.0,544.0 L539.4,543.3 L539.7,542.5 L540.1,541.7 L540.5,541.1 L540.9,540.5 L541.3,540.0 L541.7,539.4 L542.2,538.8 L542.7,538.3 L543.3,537.7 L543.9,537.1 L544.5,536.5 L545.2,535.8 L545.9,535.2 L546.6,534.6 L547.3,533.9 L548.0,533.3 L548.8,532.6 L549.6,532.0 L550.3,531.4 L551.1,530.8 L551.9,530.2 L552.7,529.6 L553.5,529.1 L554.3,528.5 L555.1,528.0 L556.0,527.4 L556.9,526.9 L557.8,526.3 L558.8,525.7 L559.8,525.2 L560.9,524.6 L562.0,524.0 L563.2,523.4 L564.3,522.8 L565.4,522.2 L566.6,521.6 L567.7,521.1 L568.7,520.5 L569.8,520.0 L570.8,519.5 L571.9,519.0 L572.9,518.6 L574.0,518.1 L575.1,517.7 L576.4,517.2 L577.6,516.8 L579.0,516.3 L580.3,515.9 L581.7,515.5 L583.1,515.1 L584.5,514.7 L585.9,514.4 L587.2,514.1 L588.5,513.8 L589.7,513.5 L591.0,513.2 L592.3,513.0 L593.6,512.7 L594.9,512.6 L596.4,512.4 L597.9,512.2 L599.5,512.1 L601.2,512.0 L603.0,511.9 L604.8,511.9 L606.5,511.8 L608.3,511.8 L610.0,511.8 L611.7,511.8 L613.3,511.8 L615.0,511.9 L616.6,512.0 L618.3,512.0 L619.9,512.1 L621.4,512.3 L623.0,512.4 L624.5,512.5 L626.0,512.7 L627.4,512.8 L628.9,513.0 L630.3,513.2 L631.6,513.4 L633.0,513.7 L634.3,513.9 L635.6,514.2 L636.9,514.5 L638.1,514.8 L639.3,515.1 L640.6,515.5 L641.8,515.9 L643.2,516.3 L644.5,516.7 L645.9,517.1 L647.3,517.5 L648.7,517.9 L650.2,518.4 L651.6,518.9 L653.0,519.4 L654.5,519.8 L655.9,520.3 L657.3,520.8 L658.7,521.3 L660.1,521.8 L661.5,522.2 L662.8,522.7 L664.1,523.2 L665.2,523.7 L666.3,524.2 L667.3,524.6 L668.2,525.1 L669.0,525.6 L669.8,526.1 L670.6,526.6 L671.3,527.2 L672.1,527.8 L672.9,528.3 L673.8,528.9 L674.6,529.5 L675.3,530.1 L676.1,530.7 L676.8,531.3 L677.4,531.9 L678.0,532.4 L678.4,532.8 L678.8,533.3 L679.1,533.7 L679.4,534.1 L679.6,534.4 L679.7,534.8 L679.9,535.1 L680.0,535.4 L680.1,535.8 L680.2,536.1 L680.2,536.5 L680.2,536.8 L680.2,537.2 L680.2,537.6 L680.1,538.1 L680.0,538.7 L679.9,539.2 L679.7,539.8 L679.6,540.4 L679.4,541.1 L679.1,541.8 L678.8,542.4 L678.6,543.1 L678.3,543.7 L678.0,544.2 L677.7,544.7 L677.3,545.3 L676.8,545.8 L676.3,546.4 L675.8,547.0 L675.3,547.6 L674.8,548.2 L674.3,548.8 L673.9,549.3 L673.5,549.8 L673.2,550.2 L672.9,550.6 L672.6,550.9 L672.3,551.3 L672.1,551.5 L672.0,551.7 L671.2,553.4 L671.4,555.2 L672.5,556.6 L674.2,557.4 L676.0,557.2 L677.4,556.1 L677.6,555.9 L677.8,555.6 L678.1,555.3 L678.3,554.9 L678.7,554.5 L679.0,554.1 L679.4,553.7 L679.7,553.2 L680.1,552.8 L680.5,552.2 L681.1,551.6 L681.7,551.0 L682.3,550.3 L682.9,549.5 L683.5,548.6 L684.0,547.8 L684.5,546.9 L684.9,546.0 L685.3,545.1 L685.7,544.2 L686.0,543.3 L686.3,542.5 L686.5,541.6 L686.7,540.8 L686.9,540.0 L687.0,539.2 L687.1,538.4 L687.2,537.6 L687.2,536.8 L687.2,535.9 L687.1,535.0 L686.9,534.2 L686.7,533.4 L686.4,532.6 L686.1,531.8 L685.7,531.1 L685.3,530.3 L684.8,529.6 L684.2,528.9 L683.6,528.2 L682.9,527.4 L682.1,526.7 L681.3,526.0 L680.5,525.3 L679.6,524.6 L678.8,523.9 L677.9,523.3 L677.1,522.7 L676.2,522.1 L675.4,521.5 L674.5,520.9 L673.6,520.3 L672.6,519.6 L671.6,519.0 L670.5,518.4 L669.3,517.8 L668.0,517.3 L666.7,516.7 L665.3,516.2 L663.8,515.7 L662.4,515.1 L661.0,514.7 L659.5,514.2 L658.1,513.7 L656.7,513.2 L655.3,512.7 L653.8,512.2 L652.3,511.7 L650.8,511.3 L649.4,510.8 L647.9,510.4 L646.5,509.9 L645.1,509.5 L643.8,509.2 L642.5,508.8 L641.2,508.4 L639.9,508.0 L638.5,507.7 L637.1,507.4 L635.7,507.1 L634.2,506.8 L632.8,506.5 L631.3,506.3 L629.8,506.1 L628.3,505.9 L626.7,505.7 L625.2,505.6 L623.6,505.4 L622.0,505.3 L620.3,505.2 L618.7,505.1 L617.0,505.0 L615.2,504.9 L613.5,504.8 L611.8,504.8 L610.0,504.8 L608.2,504.8 L606.4,504.8 L604.6,504.9 L602.7,504.9 L600.9,505.0 L599.1,505.1 L597.3,505.3 L595.6,505.4 L594.0,505.6 L592.5,505.8 L591.0,506.1 L589.6,506.3 L588.3,506.6 L586.9,506.9 L585.5,507.3 L584.1,507.6 L582.7,508.0 L581.2,508.4 L579.8,508.8 L578.3,509.2 L576.8,509.7 L575.4,510.2 L574.0,510.6 L572.7,511.1 L571.4,511.6 L570.1,512.1 L569.0,512.7 L567.8,513.2 L566.7,513.7 L565.6,514.3 L564.5,514.8 L563.4,515.4 L562.3,515.9 L561.1,516.5 L559.9,517.1 L558.7,517.8 L557.6,518.4 L556.4,519.0 L555.3,519.7 L554.2,520.3 L553.2,520.9 L552.2,521.5 L551.3,522.1 L550.4,522.7 L549.5,523.3 L548.6,523.9 L547.7,524.6 L546.9,525.2 L546.0,525.9 L545.2,526.6 L544.3,527.3 L543.5,528.0 L542.7,528.7 L541.9,529.4 L541.1,530.1 L540.4,530.8 L539.7,531.4 L539.0,532.1 L538.3,532.8 L537.7,533.5 L537.0,534.2 L536.4,534.9 L535.7,535.7 L535.1,536.5 L534.5,537.4 L534.0,538.4 L533.5,539.4 L533.0,540.3 L532.6,541.1 L532.3,541.9 L532.0,542.5 L531.8,542.9 L531.5,544.7 L532.1,546.4 L533.5,547.6 L535.3,547.9 L537.0,547.3Z"/>
<path d="M548.8,526.8 L548.2,527.3 L547.4,527.9 L546.4,528.7 L545.3,529.6 L544.1,530.5 L542.9,531.5 L541.8,532.4 L540.7,533.3 L539.7,534.2 L538.7,535.0 L537.7,535.9 L536.6,536.8 L535.6,537.8 L534.5,538.8 L533.6,539.8 L532.7,540.9 L531.9,542.0 L531.3,543.1 L530.7,544.2 L530.3,545.3 L529.9,546.4 L529.6,547.5 L529.4,548.6 L529.2,549.6 L529.1,550.5 L529.1,551.5 L529.1,552.5 L529.2,553.6 L529.4,554.8 L529.9,555.9 L530.5,557.1 L531.3,558.2 L532.3,559.3 L533.5,560.3 L534.8,561.2 L536.0,562.1 L537.3,562.9 L538.5,563.7 L539.5,564.4 L540.3,565.0 L541.1,565.7 L541.8,566.3 L542.5,566.9 L543.2,567.6 L543.8,568.1 L544.4,568.7 L544.9,569.3 L545.3,569.8 L545.8,570.3 L546.1,570.8 L546.5,571.4 L546.9,571.9 L547.2,572.5 L547.5,573.0 L547.8,573.5 L548.0,573.9 L549.4,575.1 L551.1,575.5 L552.9,575.0 L554.1,573.6 L554.5,571.9 L554.0,570.1 L553.8,569.8 L553.5,569.4 L553.2,568.9 L552.8,568.2 L552.4,567.5 L551.9,566.8 L551.3,566.0 L550.7,565.2 L550.0,564.5 L549.4,563.8 L548.7,563.2 L548.0,562.5 L547.2,561.8 L546.5,561.1 L545.6,560.3 L544.7,559.6 L543.6,558.7 L542.4,557.9 L541.1,557.1 L539.9,556.3 L538.8,555.5 L537.8,554.8 L537.1,554.2 L536.7,553.8 L536.4,553.4 L536.3,553.1 L536.2,552.8 L536.1,552.5 L536.1,552.1 L536.1,551.7 L536.1,551.1 L536.2,550.4 L536.3,549.8 L536.4,549.2 L536.6,548.5 L536.8,547.8 L537.1,547.1 L537.4,546.4 L537.9,545.8 L538.3,545.1 L538.8,544.4 L539.5,543.7 L540.3,542.9 L541.2,542.1 L542.2,541.3 L543.2,540.4 L544.3,539.5 L545.3,538.7 L546.3,537.8 L547.4,536.9 L548.5,536.0 L549.7,535.0 L550.7,534.2 L551.7,533.4 L552.6,532.7 L553.2,532.2 L554.3,530.8 L554.5,529.0 L553.7,527.3 L552.3,526.2 L550.5,526.0Z"/>
<path d="M556.1,524.8 L556.3,525.6 L556.5,526.6 L556.8,527.8 L557.1,529.2 L557.5,530.7 L557.9,532.2 L558.3,533.7 L558.8,535.1 L559.3,536.5 L559.9,537.9 L560.5,539.2 L561.1,540.5 L561.7,541.8 L562.3,543.0 L562.8,544.1 L563.2,545.2 L563.6,546.3 L564.0,547.4 L564.3,548.4 L564.6,549.5 L564.9,550.6 L565.2,551.6 L565.4,552.7 L565.7,553.8 L565.9,554.9 L566.2,556.1 L566.4,557.3 L566.6,558.5 L566.8,559.7 L567.0,560.8 L567.1,561.7 L567.2,562.4 L568.0,564.0 L569.4,565.0 L571.2,565.2 L572.8,564.4 L573.8,563.0 L574.0,561.2 L573.8,560.6 L573.7,559.7 L573.5,558.6 L573.3,557.4 L573.1,556.1 L572.8,554.8 L572.6,553.5 L572.3,552.2 L572.0,551.1 L571.8,550.0 L571.5,548.8 L571.1,547.7 L570.8,546.5 L570.4,545.3 L570.0,544.1 L569.6,542.8 L569.1,541.5 L568.5,540.2 L567.9,538.9 L567.3,537.6 L566.7,536.4 L566.1,535.1 L565.6,534.0 L565.2,532.9 L564.8,531.7 L564.4,530.4 L564.1,529.0 L563.7,527.6 L563.4,526.2 L563.1,525.0 L562.9,524.0 L562.7,523.2 L561.9,521.7 L560.4,520.7 L558.6,520.7 L557.1,521.5 L556.1,523.0Z"/>
<path d="M567.2,552.9 L567.4,553.0 L567.7,553.2 L568.2,553.6 L568.9,554.0 L569.7,554.5 L570.6,554.9 L571.7,555.3 L573.1,555.4 L574.5,555.2 L575.6,554.8 L576.4,554.3 L577.2,553.9 L577.8,553.5 L578.2,553.3 L578.5,553.2 L578.6,553.1 L578.9,553.1 L579.4,553.1 L579.8,553.1 L580.2,553.1 L580.6,553.2 L580.8,553.2 L581.1,553.3 L581.2,553.4 L581.4,553.5 L581.6,553.7 L581.8,554.0 L582.1,554.4 L582.5,554.9 L582.8,555.4 L583.2,556.1 L583.5,556.7 L583.8,557.2 L584.1,557.8 L584.4,558.5 L584.7,559.2 L585.0,560.0 L585.3,560.7 L585.5,561.4 L585.8,562.1 L586.0,562.7 L586.2,563.4 L586.3,564.0 L586.5,564.7 L586.6,565.4 L586.8,566.0 L586.9,566.5 L587.0,567.0 L587.8,568.5 L589.3,569.5 L591.1,569.5 L592.6,568.7 L593.6,567.2 L593.6,565.4 L593.5,565.1 L593.4,564.6 L593.3,563.9 L593.1,563.2 L592.9,562.4 L592.7,561.6 L592.5,560.8 L592.2,559.9 L592.0,559.2 L591.7,558.4 L591.4,557.5 L591.0,556.7 L590.7,555.8 L590.3,555.0 L589.9,554.1 L589.5,553.3 L589.1,552.6 L588.6,551.9 L588.2,551.2 L587.7,550.4 L587.1,549.7 L586.4,548.9 L585.7,548.2 L584.8,547.6 L583.8,547.1 L582.9,546.7 L581.9,546.5 L581.0,546.4 L580.1,546.3 L579.2,546.3 L578.3,546.3 L577.4,546.5 L576.2,546.8 L575.2,547.2 L574.4,547.6 L573.7,548.1 L573.2,548.4 L572.8,548.6 L572.7,548.6 L572.9,548.6 L573.1,548.6 L573.1,548.6 L572.8,548.5 L572.5,548.3 L572.1,548.0 L571.6,547.7 L571.2,547.3 L570.8,547.1 L569.1,546.6 L567.4,547.0 L566.1,548.2 L565.6,549.9 L566.0,551.6Z"/>
<path d="M592.1,511.6 L592.0,512.4 L591.9,513.5 L591.7,514.8 L591.6,516.2 L591.4,517.7 L591.2,519.2 L591.1,520.6 L591.0,521.7 L590.9,522.6 L590.8,523.3 L590.7,524.1 L590.7,524.9 L590.6,525.8 L590.7,526.8 L590.9,527.9 L591.2,529.0 L591.7,530.1 L592.4,531.2 L593.0,532.0 L593.6,532.7 L594.2,533.4 L594.8,534.1 L595.3,534.9 L595.8,535.8 L596.4,537.0 L597.1,538.4 L597.8,540.0 L598.6,541.7 L599.3,543.4 L600.0,545.1 L600.7,546.7 L601.2,548.1 L601.7,549.4 L602.1,550.7 L602.5,551.9 L602.9,553.0 L603.2,554.2 L603.5,555.4 L603.9,556.6 L604.2,557.9 L604.6,559.2 L604.9,560.6 L605.3,562.2 L605.6,563.6 L606.0,565.1 L606.2,566.4 L606.5,567.4 L606.7,568.3 L607.5,569.8 L609.0,570.8 L610.8,570.8 L612.3,570.0 L613.3,568.5 L613.3,566.7 L613.1,565.9 L612.9,564.9 L612.6,563.6 L612.3,562.1 L611.9,560.6 L611.5,559.0 L611.2,557.5 L610.8,556.1 L610.4,554.8 L610.1,553.6 L609.8,552.4 L609.4,551.1 L609.0,549.8 L608.6,548.5 L608.1,547.1 L607.6,545.7 L607.0,544.1 L606.3,542.5 L605.6,540.7 L604.8,539.0 L604.0,537.2 L603.3,535.5 L602.5,534.0 L601.8,532.6 L601.0,531.3 L600.3,530.1 L599.5,529.2 L598.9,528.4 L598.3,527.8 L597.9,527.3 L597.7,526.9 L597.6,526.6 L597.5,526.3 L597.4,526.0 L597.4,525.7 L597.4,525.4 L597.5,524.9 L597.6,524.2 L597.7,523.3 L597.8,522.3 L597.9,521.2 L598.0,519.9 L598.2,518.5 L598.3,517.0 L598.5,515.6 L598.7,514.3 L598.8,513.2 L598.9,512.4 L598.6,510.6 L597.5,509.3 L595.9,508.6 L594.1,508.9 L592.8,510.0Z"/>
<path d="M625.5,511.7 L625.4,512.7 L625.4,513.9 L625.3,515.4 L625.1,517.0 L625.0,518.6 L624.8,520.1 L624.7,521.5 L624.5,522.6 L624.3,523.4 L624.0,524.1 L623.8,524.8 L623.4,525.4 L623.1,526.1 L622.7,526.9 L622.3,527.8 L621.9,528.7 L621.5,529.6 L621.1,530.6 L620.7,531.6 L620.4,532.5 L620.0,533.5 L619.7,534.3 L619.4,535.0 L619.2,535.5 L619.0,537.2 L619.8,538.8 L621.2,539.9 L622.9,540.1 L624.5,539.3 L625.6,537.9 L625.8,537.4 L626.0,536.7 L626.4,535.9 L626.7,535.0 L627.1,534.0 L627.4,533.1 L627.8,532.1 L628.1,531.3 L628.4,530.6 L628.8,530.0 L629.1,529.2 L629.5,528.4 L630.0,527.5 L630.4,526.5 L630.8,525.3 L631.1,524.0 L631.4,522.5 L631.6,520.9 L631.8,519.2 L631.9,517.5 L632.0,515.9 L632.1,514.4 L632.2,513.2 L632.3,512.3 L632.0,510.5 L630.8,509.2 L629.2,508.6 L627.4,508.9 L626.1,510.1Z"/>
<path d="M625.9,526.2 L626.5,526.5 L627.2,527.0 L628.0,527.5 L628.9,528.0 L629.8,528.6 L630.7,529.2 L631.5,529.8 L632.2,530.4 L632.8,531.0 L633.5,531.6 L634.2,532.3 L634.8,533.0 L635.5,533.7 L636.1,534.5 L636.7,535.2 L637.2,536.0 L637.7,536.7 L638.2,537.4 L638.6,538.2 L639.1,539.0 L639.5,539.9 L640.0,540.7 L640.5,541.7 L641.0,542.7 L641.6,543.7 L642.3,544.7 L642.9,545.8 L643.5,546.8 L644.1,547.8 L644.6,548.7 L645.0,549.5 L645.3,550.2 L645.5,550.8 L645.7,551.4 L645.8,552.1 L645.8,552.8 L645.9,553.5 L645.9,554.2 L646.0,554.8 L646.0,555.3 L646.6,557.0 L648.0,558.1 L649.7,558.4 L651.4,557.8 L652.5,556.4 L652.8,554.7 L652.7,554.3 L652.7,553.8 L652.7,553.1 L652.6,552.2 L652.5,551.2 L652.3,550.1 L652.1,549.0 L651.7,547.8 L651.2,546.6 L650.6,545.5 L650.0,544.4 L649.4,543.3 L648.7,542.2 L648.1,541.2 L647.5,540.2 L647.0,539.3 L646.5,538.5 L646.0,537.6 L645.5,536.7 L645.1,535.8 L644.6,534.9 L644.0,533.9 L643.4,533.0 L642.8,532.0 L642.1,531.1 L641.4,530.2 L640.6,529.3 L639.9,528.5 L639.1,527.6 L638.3,526.8 L637.5,526.0 L636.6,525.2 L635.7,524.4 L634.6,523.7 L633.6,523.0 L632.6,522.3 L631.6,521.7 L630.8,521.2 L630.1,520.8 L629.7,520.4 L628.0,519.9 L626.3,520.3 L624.9,521.4 L624.4,523.1 L624.8,524.8Z"/>
<path d="M637.7,531.5 L637.3,531.9 L636.6,532.4 L635.8,533.1 L634.8,534.0 L633.8,534.9 L632.8,535.9 L631.9,537.1 L631.1,538.3 L630.4,539.5 L630.0,540.8 L629.6,542.0 L629.4,543.2 L629.1,544.3 L629.0,545.4 L628.8,546.4 L628.6,547.4 L628.5,548.6 L628.3,549.8 L628.1,551.0 L628.0,552.2 L627.9,553.4 L627.8,554.4 L627.7,555.2 L627.6,555.8 L627.9,557.6 L629.0,558.9 L630.6,559.6 L632.4,559.3 L633.7,558.2 L634.4,556.6 L634.5,555.9 L634.5,555.1 L634.6,554.1 L634.8,553.0 L634.9,551.8 L635.0,550.7 L635.2,549.6 L635.4,548.6 L635.5,547.5 L635.7,546.5 L635.9,545.5 L636.0,544.5 L636.2,543.7 L636.4,542.9 L636.7,542.3 L636.9,541.7 L637.3,541.2 L637.9,540.5 L638.6,539.8 L639.4,539.0 L640.2,538.3 L641.0,537.6 L641.8,537.0 L642.3,536.5 L643.2,535.0 L643.3,533.3 L642.5,531.7 L641.0,530.8 L639.3,530.7Z"/>
</g>
<clipPath id="gclip"><rect x="489" y="406.200" width="207.800" height="138"/></clipPath>
</defs>
<use href="#gP" fill="#8f3fa6" stroke="#8f3fa6" stroke-width="3.400" stroke-linejoin="round"/><use href="#gP" fill="#e9b3ee"/>
<rect x="489" y="406.200" width="207.800" height="138" fill="#949ff6"/>
<g clip-path="url(#gclip)"><use href="#gP" fill="#4229b4" stroke="#4229b4" stroke-width="3.400" stroke-linejoin="round"/><use href="#gP" fill="#9b83ee"/></g>
<rect x="489" y="406.200" width="207.800" height="138" fill="none" stroke="#77818a" stroke-opacity="0.820" stroke-width="4"/>
<!--GOLGI_END-->

<!-- ================= LEFT LABELS ================= -->
<g id="leftlabels">
<!-- GLUT2 transporter -->
<g>
<path d="M204,54.500 Q199.400,54.500 199.400,60 L199.400,120 Q199.400,126 205,126 Q217.500,128 230,126 Q235.600,126 235.600,120 L235.600,60 Q235.600,54.500 231,54.500 Q224,53.500 217.500,56.500 Q211,53.500 204,54.500 Z" fill="#98c3ea"/>
<path d="M204.500,56 Q200.800,56 200.800,61 L200.800,119 Q200.800,124.500 205.500,124.500 L209,124.500 Q219.500,90 209.500,56 Z" fill="#b5d6f3"/>
<path d="M230.500,56 Q234.200,56 234.200,61 L234.200,119 Q234.200,124.500 229.500,124.500 L226,124.500 Q215.500,90 225.500,56 Z" fill="#b5d6f3"/>
</g>
<line class="ln" x1="217.200" y1="44" x2="217.200" y2="143" marker-end="url(#ah)"/>
<line class="ln" x1="230" y1="75" x2="284" y2="47.500"/>
<circle cx="155.100" cy="27.400" r="15.600" fill="none" stroke="#1d1d1f" stroke-width="1.900"/>
<text class="b" x="154.800" y="35.900" font-size="25" text-anchor="middle">1</text>
<text class="b" x="176" y="35" font-size="22" textLength="84" lengthAdjust="spacingAndGlyphs">Glucose</text>
<text class="b" x="286" y="40" font-size="22" textLength="211.500" lengthAdjust="spacingAndGlyphs">Glucose transporter</text>
<text class="b" x="286" y="64.500" font-size="22" textLength="69" lengthAdjust="spacingAndGlyphs">GLUT2</text>
<text class="b" x="487" y="70" font-size="22.500" textLength="235.500" lengthAdjust="spacingAndGlyphs" style="stroke-width:0.85px">Extracellular space</text>
<text class="b" x="260.500" y="131" font-size="22" style="stroke-width:0.8px"><tspan textLength="124.500" lengthAdjust="spacingAndGlyphs">Pancreatic</tspan><tspan x="395.500" font-style="italic" font-family="'Liberation Serif',serif" font-size="24">β</tspan><tspan x="417.500" textLength="39" lengthAdjust="spacingAndGlyphs">cell</tspan></text>
<text class="b" x="176" y="164.500" font-size="22" textLength="84" lengthAdjust="spacingAndGlyphs">Glucose</text>
<line class="ln" x1="217" y1="174" x2="217" y2="241.500" marker-end="url(#ah)"/>
<text x="226" y="201" font-size="19" font-weight="bold" fill="#1d5c86" textLength="118.500" lengthAdjust="spacingAndGlyphs">hexokinase IV</text>
<text x="226" y="224.500" font-size="19" font-weight="bold" fill="#1d5c86" textLength="115" lengthAdjust="spacingAndGlyphs">(glucokinase)</text>
<text class="b" x="111" y="261" font-size="22" textLength="224.500" lengthAdjust="spacingAndGlyphs">Glucose 6-phosphate</text>
<line class="ln" x1="217" y1="275" x2="217" y2="318.500" marker-end="url(#ah)"/>
<text class="b" x="226" y="297" font-size="18.300" textLength="82" lengthAdjust="spacingAndGlyphs">glycolysis</text>
<line class="ln" x1="217" y1="325" x2="217" y2="369" marker-end="url(#ah)"/>
<text class="b" x="226" y="348.750" font-size="18.300" textLength="129" lengthAdjust="spacingAndGlyphs">citric acid cycle</text>
<line class="ln" x1="217" y1="376" x2="217" y2="419" marker-end="url(#ah)"/>
<text class="b" x="226" y="386" font-size="18.300" textLength="80" lengthAdjust="spacingAndGlyphs">oxidative</text>
<text class="b" x="226" y="409.500" font-size="18.300" textLength="142.500" lengthAdjust="spacingAndGlyphs">phosphorylation</text>
<!-- Vm -->
<text class="b" x="57.500" y="347.500" font-size="19.500" font-style="italic" textLength="15" lengthAdjust="spacingAndGlyphs">V</text>
<text class="b" x="72" y="354" font-size="15" textLength="14" lengthAdjust="spacingAndGlyphs">m</text>
<g class="b" style="stroke-width:0.1px">
<text x="76.400" y="376.5" font-size="24">+</text><text x="112" y="375.0" font-size="20">−</text>
<text x="76.400" y="395.5" font-size="24">+</text><text x="112" y="394.0" font-size="20">−</text>
<text x="76.400" y="415.0" font-size="24">+</text><text x="112" y="413.5" font-size="20">−</text>
<text x="76.400" y="434.0" font-size="24">+</text><text x="112" y="432.5" font-size="20">−</text>
<text x="76.400" y="453.0" font-size="24">+</text><text x="112" y="451.5" font-size="20">−</text>
<text x="76.400" y="472.5" font-size="24">+</text><text x="112" y="471.0" font-size="20">−</text>
</g>
<!-- 2 ATP -->
<circle cx="162.100" cy="437.400" r="15.700" fill="none" stroke="#1d1d1f" stroke-width="1.900"/>
<text class="b" x="161.600" y="445.800" font-size="25" text-anchor="middle">2</text>
<text class="b" x="187" y="446" font-size="21" textLength="53" lengthAdjust="spacingAndGlyphs">[ATP]</text>
<text x="242" y="447" font-size="20" font-weight="bold" fill="#1d1d1f" style="font-family:'DejaVu Sans',sans-serif">↑</text>
<path class="ln" d="M216,455 L161.500,485.500" stroke-dasharray="7 4" />
<path d="M156.800,488 L169,485.800 L164.600,483.400 L164.300,478 Z" fill="#161616"/>
<!-- inhibition sign -->
<g stroke="#94123a" stroke-width="2.600" fill="none"><circle cx="143" cy="493.800" r="13.400" fill="none"/><path d="M133.600,484.600 L152.400,503.400 M152.400,484.600 L133.600,503.400"/></g>
<!-- K channel -->
<path d="M65.500,520.500 Q66,515 75,511.500 Q88,507 102.500,504.800 Q114,503 123.500,503.300 Q130.500,504.500 131.800,510.500 Q132.600,516 131,521.500 Q128,526.500 118,526 Q92,528.500 70,526.500 Q65,525.500 65.500,520.500 Z" fill="#acb0e0"/>
<path d="M67.500,532.500 Q67,528 75,527.800 Q100,528.500 128,525.800 Q133.500,527 134.500,533.500 Q134,540 126,542.300 Q114,545.500 102.500,545 Q85,545 71.500,541.500 Q67.500,539 67.500,532.500 Z" fill="#acb0e0"/>
<path d="M69,514.500 Q95,506.500 127,506.500" stroke="#c3c6ea" stroke-width="2.200" fill="none" stroke-linecap="round"/>
<path d="M70.500,531 Q100,531.500 130,529" stroke="#c3c6ea" stroke-width="1.800" fill="none" stroke-linecap="round"/>
<line class="ln" x1="159" y1="518" x2="44.800" y2="532" marker-end="url(#ah)"/>
<text class="b" x="165" y="522.500" font-size="21.500" textLength="14" lengthAdjust="spacingAndGlyphs">K</text>
<text class="b" x="179.200" y="515.400" font-size="15" style="stroke-width:0.1px">+</text>
<text class="b" x="15.500" y="544.500" font-size="21.500" textLength="14.500" lengthAdjust="spacingAndGlyphs">K</text>
<text class="b" x="30.100" y="538.100" font-size="15" style="stroke-width:0.1px">+</text>
<line class="ln" x1="114" y1="537.500" x2="134.500" y2="569"/>
<text class="b" x="142" y="569" font-size="22.500" textLength="108" lengthAdjust="spacingAndGlyphs">ATP-gated</text>
<text class="b" x="142" y="595" font-size="22.500" textLength="14.500" lengthAdjust="spacingAndGlyphs">K</text>
<text class="b" x="157.400" y="587.100" font-size="15" style="stroke-width:0.1px">+</text>
<text class="b" x="171.500" y="595" font-size="22.500" textLength="82.500" lengthAdjust="spacingAndGlyphs">channel</text>
<!-- depolarization curve + 3 -->
<path class="ln" d="M77.500,545 C79,590 84,625 98,660.600 C108,684 125,705 148,720"/>
<circle cx="104.300" cy="713.400" r="15.600" fill="none" stroke="#1d1d1f" stroke-width="1.900"/>
<text class="b" x="104" y="721.600" font-size="25" text-anchor="middle">3</text>
<!-- Ca channel -->
<path d="M274,720 L273,700 Q275,686 283,685 Q291,686 292.500,700 L292.500,720 Z" fill="#a6dd8e" stroke="#8ccb74" stroke-width="1"/>
<path d="M293.500,720 L293.500,700 Q296,686 303.500,685 Q312,686 313.600,700 L313,720 Z" fill="#a6dd8e" stroke="#8ccb74" stroke-width="1"/>
<line class="ln" x1="291" y1="720" x2="310.800" y2="587" marker-end="url(#ah)"/>
<!-- 4 Ca -->
<circle cx="293.100" cy="536.600" r="15.600" fill="none" stroke="#1d1d1f" stroke-width="1.900"/>
<text class="b" x="293" y="545.100" font-size="25" text-anchor="middle">4</text>
<text class="b" x="281" y="579" font-size="21" textLength="32" lengthAdjust="spacingAndGlyphs">[Ca</text>
<text class="b" x="314" y="571" font-size="15.500" textLength="20" lengthAdjust="spacingAndGlyphs">2+</text>
<text class="b" x="335" y="579" font-size="21" textLength="6" lengthAdjust="spacingAndGlyphs">]</text>
<text x="343" y="578.500" font-size="20" font-weight="bold" fill="#1d1d1f" style="font-family:'DejaVu Sans',sans-serif">↑</text>
<!-- ER to Ca arrow -->
<path class="ln" d="M391.500,372 C374,404 338,472 321.500,549" marker-end="url(#ah)"/>
<!-- Ca to secretion curve -->
<path class="ln" d="M352.500,589.500 C375,615 395,627 415,636 C440,648 465,657 490,662.500 C515,668 540,671 560,671 C590,671 610,669.500 620,667.500 C645,663 660,658 670,654 C688,646 700,640 708,633.500" marker-end="url(#ah)"/>
<!-- Insulin granules label -->
<text class="b" x="428" y="588" font-size="22" textLength="71" lengthAdjust="spacingAndGlyphs">Insulin</text>
<text class="b" x="428" y="614.500" font-size="22" textLength="91.500" lengthAdjust="spacingAndGlyphs">granules</text>
<path class="ln" d="M515,594.500 L541,594.500 M566,583.500 L541,594.500 L566,610.500"/>
<!-- granules -->
<g fill="#e9564f" stroke="#ef8378" stroke-width="1.400">
<circle cx="569.500" cy="582" r="9.500"/><circle cx="595" cy="587" r="9.500"/><circle cx="572.500" cy="612" r="9.500"/><circle cx="611.500" cy="622" r="9.500"/><circle cx="631" cy="602.500" r="9.500"/><circle cx="640.500" cy="572" r="9.500"/><circle cx="658" cy="592.500" r="9.500"/><circle cx="657.500" cy="622" r="9.500"/><circle cx="682.500" cy="579" r="9.500"/><circle cx="684.500" cy="613" r="9.500"/><circle cx="713" cy="590" r="9.500"/>
</g>
<!-- exocytosis pit + dots -->
<path d="M733,605.500 Q724,607 723,616 Q724,625 733,627.500 L733,605.500 Z" fill="#fff"/>
<path d="M731.500,606 Q722.500,608 722,616.500 Q722.500,625 731.500,627.500" fill="none" stroke="#5f96c4" stroke-width="1.800"/>
<g fill="#b3202f">
<circle cx="741" cy="604" r="2"/><circle cx="755" cy="600" r="2"/><circle cx="737.500" cy="611" r="2"/><circle cx="749" cy="607.500" r="2"/><circle cx="760" cy="614.500" r="2"/><circle cx="772" cy="614.500" r="2"/><circle cx="726" cy="619.500" r="2"/><circle cx="732.500" cy="619" r="2"/><circle cx="740.500" cy="621" r="2"/><circle cx="750" cy="616" r="2"/><circle cx="761" cy="625" r="2"/><circle cx="732" cy="625.500" r="2"/><circle cx="748" cy="628" r="2"/><circle cx="739.500" cy="632.500" r="2"/><circle cx="756" cy="634" r="2"/>
</g>
<circle cx="749.300" cy="578.300" r="15.500" fill="none" stroke="#1d1d1f" stroke-width="1.900"/>
<text class="b" x="749.300" y="587.600" font-size="25" text-anchor="middle">5</text>
<text class="b" x="739" y="659" font-size="21.500" textLength="70" lengthAdjust="spacingAndGlyphs">Insulin</text>
<text class="b" x="726" y="686" font-size="21.500" textLength="95" lengthAdjust="spacingAndGlyphs">secretion</text>
<!-- nucleus label -->
<text class="b" x="489" y="298" font-size="22" textLength="84" lengthAdjust="spacingAndGlyphs">Nucleus</text>
<!-- zoom arrow -->
<line x1="696" y1="404" x2="807.500" y2="224" stroke="#111" stroke-width="2.400" marker-end="url(#ahb)"/>
</g>


<!-- ================= RIGHT DIAGRAM ================= -->
<g id="rightdiagram">
<!-- cut-off descenders of the top caption -->
<path d="M819.300,0v2" stroke="#1d1d1f" stroke-width="2.600"/>
<text class="b" x="1120" y="14.500" font-size="16" textLength="51" lengthAdjust="spacingAndGlyphs">insulin</text>

<!-- ---- structure 1 : preproinsulin ---- -->
<g fill="none" stroke-width="8.400" stroke-linecap="butt">
<path d="M806.800,186 L806.800,65.750 A17,17 0 0 1 823.800,48.750" stroke="#8fb1e2"/>
<path d="M823.500,48.750 A17,17 0 0 1 840.600,65.750 L840.600,157" stroke="#c9dcf1"/>
<path d="M806.800,185 A33.700,34.300 0 0 0 840.500,219.300" stroke="#8fb1e2"/>
<path d="M840.300,219.300 A33.700,34.300 0 0 0 874,185 L874,70" stroke="#5e5ab3"/>
<path d="M873.500,70.500 L873.500,28" stroke="#9b2452" stroke-width="9.300"/>
</g>
<path d="M873.750,21 V28 M840,157 V167" stroke="#1d1d1f" stroke-width="1.500"/>
<text class="lbl" x="869.500" y="19.500" textLength="18" lengthAdjust="spacingAndGlyphs" style="font-size:13.500px">NH</text>
<text class="lbl" x="888" y="22.500" style="font-size:8.500px;stroke-width:0.1px">3</text>
<text class="lbl" x="870.7" y="9.4" style="font-size:11px;stroke-width:0.1px">+</text>
<text class="lbl" x="883" y="47.500" textLength="37" lengthAdjust="spacingAndGlyphs">Signal</text>
<text class="lbl" x="883" y="62.500" textLength="57" lengthAdjust="spacingAndGlyphs">sequence</text>
<text class="lbl" x="813" y="99.800" style="font-size:12.500px">C</text>
<text class="lbl" x="847.500" y="99.800" style="font-size:12.500px">A</text>
<text class="lbl" x="882.600" y="99.800" style="font-size:12.500px">B</text>
<text class="lbl" x="835.500" y="180" textLength="26" lengthAdjust="spacingAndGlyphs" style="font-size:13px">COO</text>
<text class="lbl" x="861.5" y="175.1" style="font-size:11px;stroke-width:0.1px">−</text>
<path d="M887.500,138 H954" class="ln" style="stroke-width:1.600px" marker-end="url(#ahs)"/>
<path d="M900,138 C922,140 927,160 930,185 C933,212 938,232 948.500,246.500" class="ln" style="stroke-width:1.300px" marker-end="url(#ahs)"/>
<text class="lbl" x="903.750" y="260" textLength="98" lengthAdjust="spacingAndGlyphs">Signal sequence</text>
<path d="M938,276 L978.750,264 L980.500,272.500 L940,284.500 Z" fill="#9b2452"/>

<!-- ---- structure 2 : proinsulin ---- -->
<g fill="#f7e534">
<rect x="980.500" y="78" width="15" height="39"/><rect x="1011" y="78" width="24.500" height="17"/><rect x="1011" y="125.750" width="24.500" height="16.500"/>
</g>
<g fill="none" stroke-width="8.400">
<path d="M972.300,186 L972.300,65.750 A17,17 0 0 1 989.300,48.750" stroke="#8fb1e2"/>
<path d="M989,48.750 A17,17 0 0 1 1006.100,65.750 L1006.100,155.500" stroke="#c9dcf1"/>
<path d="M972.300,185 A33.850,34 0 0 0 1006.200,218.700" stroke="#8fb1e2"/>
<path d="M1006,218.700 A33.850,34 0 0 0 1040,185 L1040,70.500" stroke="#5e5ab3"/>
</g>
<path d="M1040.500,61 V70.500 M1006.750,155.500 V166 M988.500,93 V103 M992.500,87 H1002 M992.500,108.750 H1002" stroke="#1d1d1f" stroke-width="1.500"/>
<text class="lbl" x="1036" y="59.500" textLength="18" lengthAdjust="spacingAndGlyphs" style="font-size:13.500px">NH</text>
<text class="lbl" x="1054.500" y="62.500" style="font-size:8.500px;stroke-width:0.1px">3</text>
<text class="lbl" x="1037.7" y="49.1" style="font-size:11px;stroke-width:0.1px">+</text>
<text class="lbl" x="984.500" y="91.500" style="font-size:13px">S</text>
<text class="lbl" x="984.500" y="113.500" style="font-size:13px">S</text>
<text class="lbl" x="1011.500" y="91.500" textLength="23.500" lengthAdjust="spacingAndGlyphs" style="font-size:13px">-S-S-</text>
<text class="lbl" x="1011.500" y="138.800" textLength="23.500" lengthAdjust="spacingAndGlyphs" style="font-size:13px">-S-S-</text>
<text class="lbl" x="1002" y="180" textLength="26" lengthAdjust="spacingAndGlyphs" style="font-size:13px">COO</text>
<text class="lbl" x="1028.0" y="175.1" style="font-size:11px;stroke-width:0.1px">−</text>
<path d="M1057,138 H1124" class="ln" style="stroke-width:1.600px" marker-end="url(#ahs)"/>
<path d="M1065,138 C1087,140 1092,160 1095,185 C1098,212 1104,232 1115.500,245.500" class="ln" style="stroke-width:1.300px" marker-end="url(#ahs)"/>

<!-- ---- structure 3 : mature insulin ---- -->
<g fill="#f7e534">
<rect x="1111.250" y="78" width="15" height="39"/><rect x="1144.500" y="78" width="24.500" height="17"/><rect x="1144.500" y="125.750" width="24.500" height="16.500"/>
</g>
<g fill="none" stroke-width="8.400">
<path d="M1122,50.500 Q1138.400,50 1138.400,70 L1138.400,155.500" stroke="#c9dcf1"/>
<path d="M1173.200,70 L1173.200,180 Q1173.200,214 1143.750,219" stroke="#5e5ab3"/>
</g>
<path d="M1173,61 V70 M1138.750,155.500 V166 M1119.250,93 V103 M1123.500,87 H1134 M1123.500,108.750 H1134 M1112,49.500 H1121" stroke="#1d1d1f" stroke-width="1.500"/>
<text class="lbl" x="1084.300" y="53.750" style="font-size:13.500px">H</text>
<text class="lbl" x="1094.300" y="56.500" style="font-size:8.500px;stroke-width:0.1px">3</text>
<text class="lbl" x="1099.700" y="53.750" style="font-size:13.500px">N</text>
<text class="lbl" x="1104.5" y="43.6" style="font-size:11px;stroke-width:0.1px">+</text>
<text class="lbl" x="1168.750" y="59.500" textLength="18" lengthAdjust="spacingAndGlyphs" style="font-size:13.500px">NH</text>
<text class="lbl" x="1187.200" y="62.500" style="font-size:8.500px;stroke-width:0.1px">3</text>
<text class="lbl" x="1170.0" y="48.6" style="font-size:11px;stroke-width:0.1px">+</text>
<text class="lbl" x="1115.250" y="91.500" style="font-size:13px">S</text>
<text class="lbl" x="1115.250" y="113.500" style="font-size:13px">S</text>
<text class="lbl" x="1145" y="91.500" textLength="23.500" lengthAdjust="spacingAndGlyphs" style="font-size:13px">-S-S-</text>
<text class="lbl" x="1145" y="138.800" textLength="23.500" lengthAdjust="spacingAndGlyphs" style="font-size:13px">-S-S-</text>
<text class="lbl" x="1062.500" y="100.500" textLength="44" lengthAdjust="spacingAndGlyphs">A chain</text>
<text class="lbl" x="1181.250" y="100.500" textLength="44" lengthAdjust="spacingAndGlyphs">B chain</text>
<text class="lbl" x="1135" y="180" textLength="26" lengthAdjust="spacingAndGlyphs" style="font-size:13px">COO</text>
<text class="lbl" x="1161.0" y="175.1" style="font-size:11px;stroke-width:0.1px">−</text>
<text class="lbl" x="1109.500" y="225" textLength="27" lengthAdjust="spacingAndGlyphs" style="font-size:13px">OOC</text>
<text class="lbl" x="1104" y="220.600" style="font-size:10px;stroke-width:0.1px">−</text><text class="lbl" x="1137.500" y="224.500" style="font-size:10px;stroke-width:0.1px">–</text>
<text class="lbl" x="1083" y="260" textLength="58" lengthAdjust="spacingAndGlyphs">C peptide</text>
<path d="M1089.500,313 C1089,292 1096,280 1114,274.500 L1222,243.500 Q1242,238.500 1247,257" fill="none" stroke="#85abe3" stroke-width="8.300"/>
</g>


<!-- ================= RIGHT TEXT ================= -->
<g id="righttext">
<circle cx="891.800" cy="361.300" r="3" fill="#111"/>
<text class="t" x="912.500" y="369.400" textLength="325" lengthAdjust="spacingAndGlyphs">In pancreatic <tspan font-weight="bold">β-cells</tspan>, glucose</text>
<text class="t" x="912.500" y="397.300" textLength="302" lengthAdjust="spacingAndGlyphs">release requires <tspan font-weight="bold">Ca</tspan><tspan font-weight="bold" font-size="14" dy="-6.500">2+</tspan><tspan font-weight="bold" dy="6.500"> influx</tspan>.</text>
<circle cx="891.800" cy="446.500" r="3" fill="#111"/>
<text class="t" x="912.500" y="454.700" textLength="211.500" lengthAdjust="spacingAndGlyphs"><tspan font-weight="bold">Low</tspan> blood glucose:</text>
<circle cx="935.600" cy="502.700" r="3" fill="#111"/>
<g class="ar">
<text x="951.800" y="512.300">↓</text><text x="1030.900" y="511">→</text><text x="1079.400" y="512.300">↑</text><text x="1215.650" y="511">→</text>
<text x="951.800" y="541.100">↑</text><text x="1215.650" y="539.800">→</text>
<text x="951.800" y="569.900">↓</text><text x="1107.850" y="568.600">→</text><text x="1153.100" y="569.900">↓</text>
<text x="1035.850" y="710.800">→</text><text x="1081.800" y="712.100">↓</text><text x="1214.850" y="710.800">→</text>
<text x="953.800" y="712.100" style="fill:#3be43b;stroke:#3be43b;stroke-width:0.8px">↑</text>
</g>
<text class="t" x="966.500" y="511" textLength="44.800" lengthAdjust="spacingAndGlyphs">ATP</text>
<text class="t" x="1095.500" y="511">K<tspan font-size="14" dy="-6.500" dx="1">+</tspan></text>
<text class="t" x="1140.500" y="511" textLength="55.800" lengthAdjust="spacingAndGlyphs">efflux</text>
<text class="t" x="972.700" y="539.800" textLength="222.100" lengthAdjust="spacing">hyperpolarization</text>
<text class="t" x="968.400" y="568.600">Ca<tspan font-size="14" dy="-6.500" dx="1">2+</tspan></text>
<text class="t" x="1037" y="568.600" textLength="54.500" lengthAdjust="spacingAndGlyphs">influx</text>
<text class="t" x="1170.200" y="568.600" textLength="66.800" lengthAdjust="spacingAndGlyphs">insulin</text>
<text class="t" x="956.400" y="597.700" textLength="96" lengthAdjust="spacingAndGlyphs">secretion</text>
<circle cx="891.800" cy="647.600" r="3" fill="#111"/>
<text class="t" x="912.500" y="655.400" textLength="256" lengthAdjust="spacingAndGlyphs"><tspan font-weight="bold">Elevated</tspan> blood glucose</text>
<circle cx="936" cy="704.200" r="3" fill="#111"/>
<text class="t" x="972.800" y="710.800" font-weight="bold" style="fill:#3be43b" textLength="44.700" lengthAdjust="spacingAndGlyphs">ATP</text>
<text class="t" x="1100" y="710.800">K<tspan font-size="14" dy="-6.500" dx="1">+</tspan></text>
<text class="t" x="1142" y="710.800" textLength="55.300" lengthAdjust="spacingAndGlyphs">efflux</text>
</g>

</svg>
</body>
</html>
